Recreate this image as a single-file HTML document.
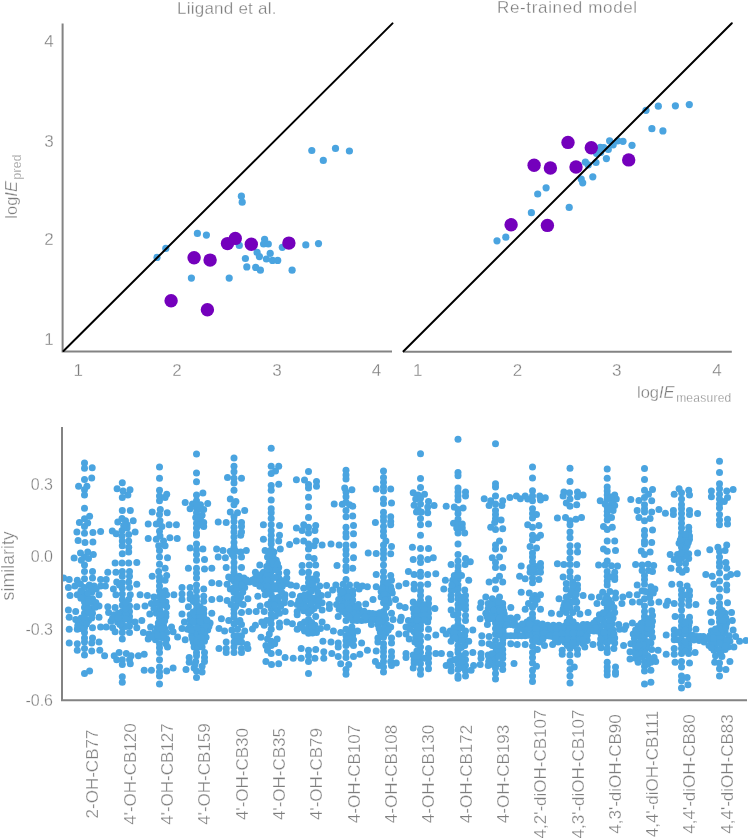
<!DOCTYPE html><html><head><meta charset="utf-8"><style>
html,body{margin:0;padding:0;background:#fff;}
body{width:749px;height:840px;position:relative;overflow:hidden;}
svg{position:absolute;left:0;top:0;display:block;}
</style></head><body>
<svg width="749" height="840" viewBox="0 0 749 840">
<defs><clipPath id="cp"><rect x="62" y="420" width="686" height="280"/></clipPath></defs>
<g fill="#4aa4e0" clip-path="url(#cp)"><circle cx="84.5" cy="462.9" r="3.5"/><circle cx="84.5" cy="468.2" r="3.5"/><circle cx="92.2" cy="467.8" r="3.5"/><circle cx="84.5" cy="479.5" r="3.5"/><circle cx="91.7" cy="477.9" r="3.5"/><circle cx="78.6" cy="486.2" r="3.5"/><circle cx="86.9" cy="486.2" r="3.5"/><circle cx="84.5" cy="489.8" r="3.5"/><circle cx="84.5" cy="495.1" r="3.5"/><circle cx="84.5" cy="508.3" r="3.5"/><circle cx="89.6" cy="516.3" r="3.5"/><circle cx="84.5" cy="518.7" r="3.5"/><circle cx="79.4" cy="522.4" r="3.5"/><circle cx="87.7" cy="522.9" r="3.5"/><circle cx="84.5" cy="526.4" r="3.5"/><circle cx="76.9" cy="532.1" r="3.5"/><circle cx="84.5" cy="533.3" r="3.5"/><circle cx="92.9" cy="532.5" r="3.5"/><circle cx="100.6" cy="531.6" r="3.5"/><circle cx="78.1" cy="540.6" r="3.5"/><circle cx="85.0" cy="542.5" r="3.5"/><circle cx="92.9" cy="542.0" r="3.5"/><circle cx="74.1" cy="558.1" r="3.5"/><circle cx="80.5" cy="552.9" r="3.5"/><circle cx="87.7" cy="552.1" r="3.5"/><circle cx="84.5" cy="557.0" r="3.5"/><circle cx="93.3" cy="554.6" r="3.5"/><circle cx="88.5" cy="558.6" r="3.5"/><circle cx="81.3" cy="560.2" r="3.5"/><circle cx="84.5" cy="565.0" r="3.5"/><circle cx="84.5" cy="571.4" r="3.5"/><circle cx="92.5" cy="571.4" r="3.5"/><circle cx="63.6" cy="577.9" r="3.5"/><circle cx="69.2" cy="579.5" r="3.5"/><circle cx="77.3" cy="580.3" r="3.5"/><circle cx="84.5" cy="578.7" r="3.5"/><circle cx="92.5" cy="577.9" r="3.5"/><circle cx="100.6" cy="579.5" r="3.5"/><circle cx="68.4" cy="587.5" r="3.5"/><circle cx="74.9" cy="585.9" r="3.5"/><circle cx="80.5" cy="584.3" r="3.5"/><circle cx="84.5" cy="587.5" r="3.5"/><circle cx="89.3" cy="585.1" r="3.5"/><circle cx="94.1" cy="585.9" r="3.5"/><circle cx="100.6" cy="585.9" r="3.5"/><circle cx="70.0" cy="595.5" r="3.5"/><circle cx="77.3" cy="594.7" r="3.5"/><circle cx="84.5" cy="593.9" r="3.5"/><circle cx="91.7" cy="592.3" r="3.5"/><circle cx="99.0" cy="594.7" r="3.5"/><circle cx="84.5" cy="598.8" r="3.5"/><circle cx="92.5" cy="598.8" r="3.5"/><circle cx="84.5" cy="602.0" r="3.5"/><circle cx="92.5" cy="602.0" r="3.5"/><circle cx="68.4" cy="610.0" r="3.5"/><circle cx="75.7" cy="611.6" r="3.5"/><circle cx="84.5" cy="607.6" r="3.5"/><circle cx="91.7" cy="608.4" r="3.5"/><circle cx="99.0" cy="606.0" r="3.5"/><circle cx="84.5" cy="613.2" r="3.5"/><circle cx="92.5" cy="613.2" r="3.5"/><circle cx="69.2" cy="617.2" r="3.5"/><circle cx="75.7" cy="619.6" r="3.5"/><circle cx="81.3" cy="618.0" r="3.5"/><circle cx="84.5" cy="621.2" r="3.5"/><circle cx="88.5" cy="620.4" r="3.5"/><circle cx="91.7" cy="618.0" r="3.5"/><circle cx="99.0" cy="617.2" r="3.5"/><circle cx="78.1" cy="622.1" r="3.5"/><circle cx="69.2" cy="629.3" r="3.5"/><circle cx="77.3" cy="629.3" r="3.5"/><circle cx="84.5" cy="627.7" r="3.5"/><circle cx="92.5" cy="627.7" r="3.5"/><circle cx="100.6" cy="626.9" r="3.5"/><circle cx="84.5" cy="632.5" r="3.5"/><circle cx="84.5" cy="638.1" r="3.5"/><circle cx="92.5" cy="638.1" r="3.5"/><circle cx="69.2" cy="642.9" r="3.5"/><circle cx="77.3" cy="643.8" r="3.5"/><circle cx="84.5" cy="642.1" r="3.5"/><circle cx="91.7" cy="642.9" r="3.5"/><circle cx="99.0" cy="642.1" r="3.5"/><circle cx="77.3" cy="650.2" r="3.5"/><circle cx="84.5" cy="648.6" r="3.5"/><circle cx="91.7" cy="651.0" r="3.5"/><circle cx="99.8" cy="650.2" r="3.5"/><circle cx="84.5" cy="655.0" r="3.5"/><circle cx="104.6" cy="655.8" r="3.5"/><circle cx="84.5" cy="673.5" r="3.5"/><circle cx="89.6" cy="671.1" r="3.5"/><circle cx="122.3" cy="482.7" r="3.5"/><circle cx="117.1" cy="488.7" r="3.5"/><circle cx="123.1" cy="491.1" r="3.5"/><circle cx="130.0" cy="489.8" r="3.5"/><circle cx="122.3" cy="497.5" r="3.5"/><circle cx="127.9" cy="495.1" r="3.5"/><circle cx="122.3" cy="510.4" r="3.5"/><circle cx="130.3" cy="510.4" r="3.5"/><circle cx="122.0" cy="518.4" r="3.5"/><circle cx="117.8" cy="521.9" r="3.5"/><circle cx="125.5" cy="520.8" r="3.5"/><circle cx="133.2" cy="520.8" r="3.5"/><circle cx="127.1" cy="524.8" r="3.5"/><circle cx="112.3" cy="530.9" r="3.5"/><circle cx="116.2" cy="533.7" r="3.5"/><circle cx="122.0" cy="530.4" r="3.5"/><circle cx="127.1" cy="528.0" r="3.5"/><circle cx="135.1" cy="532.1" r="3.5"/><circle cx="122.0" cy="536.1" r="3.5"/><circle cx="128.7" cy="534.5" r="3.5"/><circle cx="122.3" cy="540.9" r="3.5"/><circle cx="128.7" cy="540.9" r="3.5"/><circle cx="122.3" cy="545.7" r="3.5"/><circle cx="128.7" cy="547.3" r="3.5"/><circle cx="122.3" cy="553.8" r="3.5"/><circle cx="128.7" cy="552.1" r="3.5"/><circle cx="115.1" cy="563.1" r="3.5"/><circle cx="122.0" cy="563.1" r="3.5"/><circle cx="128.7" cy="563.1" r="3.5"/><circle cx="136.8" cy="562.6" r="3.5"/><circle cx="107.8" cy="572.2" r="3.5"/><circle cx="115.9" cy="572.2" r="3.5"/><circle cx="122.3" cy="571.4" r="3.5"/><circle cx="129.5" cy="571.4" r="3.5"/><circle cx="122.3" cy="576.2" r="3.5"/><circle cx="129.5" cy="576.2" r="3.5"/><circle cx="106.2" cy="579.5" r="3.5"/><circle cx="105.4" cy="585.9" r="3.5"/><circle cx="116.7" cy="581.9" r="3.5"/><circle cx="122.3" cy="582.7" r="3.5"/><circle cx="128.7" cy="581.9" r="3.5"/><circle cx="136.8" cy="584.3" r="3.5"/><circle cx="113.4" cy="589.1" r="3.5"/><circle cx="122.3" cy="588.3" r="3.5"/><circle cx="129.5" cy="587.5" r="3.5"/><circle cx="115.9" cy="594.7" r="3.5"/><circle cx="122.3" cy="593.9" r="3.5"/><circle cx="130.3" cy="594.7" r="3.5"/><circle cx="140.1" cy="594.7" r="3.5"/><circle cx="122.3" cy="599.6" r="3.5"/><circle cx="128.7" cy="599.6" r="3.5"/><circle cx="107.8" cy="606.8" r="3.5"/><circle cx="115.1" cy="607.6" r="3.5"/><circle cx="122.3" cy="605.2" r="3.5"/><circle cx="129.5" cy="606.0" r="3.5"/><circle cx="136.8" cy="606.8" r="3.5"/><circle cx="108.6" cy="612.4" r="3.5"/><circle cx="114.2" cy="614.8" r="3.5"/><circle cx="122.3" cy="611.6" r="3.5"/><circle cx="129.5" cy="611.6" r="3.5"/><circle cx="122.3" cy="616.4" r="3.5"/><circle cx="129.5" cy="616.4" r="3.5"/><circle cx="111.0" cy="621.2" r="3.5"/><circle cx="117.5" cy="622.1" r="3.5"/><circle cx="122.3" cy="621.2" r="3.5"/><circle cx="129.5" cy="620.4" r="3.5"/><circle cx="135.1" cy="622.1" r="3.5"/><circle cx="106.2" cy="626.9" r="3.5"/><circle cx="112.6" cy="627.7" r="3.5"/><circle cx="122.3" cy="626.9" r="3.5"/><circle cx="129.5" cy="626.1" r="3.5"/><circle cx="136.8" cy="627.7" r="3.5"/><circle cx="115.1" cy="631.7" r="3.5"/><circle cx="122.3" cy="632.5" r="3.5"/><circle cx="129.5" cy="632.5" r="3.5"/><circle cx="122.3" cy="638.9" r="3.5"/><circle cx="114.2" cy="655.8" r="3.5"/><circle cx="119.1" cy="652.6" r="3.5"/><circle cx="126.3" cy="653.4" r="3.5"/><circle cx="131.1" cy="655.8" r="3.5"/><circle cx="138.4" cy="655.8" r="3.5"/><circle cx="116.7" cy="659.8" r="3.5"/><circle cx="122.3" cy="659.8" r="3.5"/><circle cx="129.5" cy="659.8" r="3.5"/><circle cx="122.3" cy="664.6" r="3.5"/><circle cx="130.3" cy="663.8" r="3.5"/><circle cx="122.3" cy="676.7" r="3.5"/><circle cx="122.3" cy="682.3" r="3.5"/><circle cx="159.5" cy="467.0" r="3.5"/><circle cx="159.5" cy="478.2" r="3.5"/><circle cx="159.5" cy="490.3" r="3.5"/><circle cx="159.5" cy="495.9" r="3.5"/><circle cx="166.7" cy="494.3" r="3.5"/><circle cx="159.5" cy="500.7" r="3.5"/><circle cx="165.1" cy="497.5" r="3.5"/><circle cx="152.2" cy="512.0" r="3.5"/><circle cx="160.3" cy="509.6" r="3.5"/><circle cx="159.5" cy="514.4" r="3.5"/><circle cx="167.2" cy="512.8" r="3.5"/><circle cx="148.2" cy="524.0" r="3.5"/><circle cx="156.3" cy="524.0" r="3.5"/><circle cx="160.0" cy="520.8" r="3.5"/><circle cx="161.9" cy="526.4" r="3.5"/><circle cx="169.1" cy="524.8" r="3.5"/><circle cx="176.4" cy="524.8" r="3.5"/><circle cx="159.5" cy="531.2" r="3.5"/><circle cx="148.2" cy="538.5" r="3.5"/><circle cx="156.3" cy="539.3" r="3.5"/><circle cx="160.0" cy="536.1" r="3.5"/><circle cx="163.5" cy="540.9" r="3.5"/><circle cx="169.9" cy="537.7" r="3.5"/><circle cx="177.2" cy="538.5" r="3.5"/><circle cx="158.7" cy="545.7" r="3.5"/><circle cx="165.1" cy="545.7" r="3.5"/><circle cx="159.5" cy="550.5" r="3.5"/><circle cx="159.5" cy="557.0" r="3.5"/><circle cx="167.5" cy="557.8" r="3.5"/><circle cx="159.5" cy="564.2" r="3.5"/><circle cx="165.1" cy="568.2" r="3.5"/><circle cx="158.7" cy="571.4" r="3.5"/><circle cx="152.2" cy="576.2" r="3.5"/><circle cx="159.5" cy="577.1" r="3.5"/><circle cx="166.7" cy="575.4" r="3.5"/><circle cx="159.5" cy="581.1" r="3.5"/><circle cx="165.1" cy="580.3" r="3.5"/><circle cx="159.5" cy="585.9" r="3.5"/><circle cx="159.5" cy="590.7" r="3.5"/><circle cx="165.1" cy="590.7" r="3.5"/><circle cx="147.4" cy="595.5" r="3.5"/><circle cx="153.9" cy="597.1" r="3.5"/><circle cx="159.5" cy="596.3" r="3.5"/><circle cx="166.7" cy="594.7" r="3.5"/><circle cx="173.9" cy="594.7" r="3.5"/><circle cx="145.0" cy="606.0" r="3.5"/><circle cx="151.4" cy="603.6" r="3.5"/><circle cx="159.5" cy="602.0" r="3.5"/><circle cx="165.9" cy="602.0" r="3.5"/><circle cx="159.5" cy="607.6" r="3.5"/><circle cx="166.7" cy="606.8" r="3.5"/><circle cx="149.8" cy="614.0" r="3.5"/><circle cx="156.3" cy="613.2" r="3.5"/><circle cx="160.3" cy="611.6" r="3.5"/><circle cx="165.9" cy="613.2" r="3.5"/><circle cx="159.5" cy="618.0" r="3.5"/><circle cx="165.9" cy="616.4" r="3.5"/><circle cx="141.8" cy="620.4" r="3.5"/><circle cx="150.6" cy="626.9" r="3.5"/><circle cx="157.1" cy="627.7" r="3.5"/><circle cx="163.5" cy="625.3" r="3.5"/><circle cx="171.5" cy="626.9" r="3.5"/><circle cx="143.4" cy="632.5" r="3.5"/><circle cx="149.0" cy="634.1" r="3.5"/><circle cx="154.7" cy="632.5" r="3.5"/><circle cx="160.3" cy="631.7" r="3.5"/><circle cx="166.7" cy="632.5" r="3.5"/><circle cx="173.1" cy="631.7" r="3.5"/><circle cx="148.2" cy="638.9" r="3.5"/><circle cx="155.5" cy="639.7" r="3.5"/><circle cx="160.3" cy="637.3" r="3.5"/><circle cx="166.7" cy="638.9" r="3.5"/><circle cx="177.6" cy="636.9" r="3.5"/><circle cx="159.5" cy="643.8" r="3.5"/><circle cx="165.9" cy="643.8" r="3.5"/><circle cx="159.5" cy="647.8" r="3.5"/><circle cx="167.5" cy="647.0" r="3.5"/><circle cx="159.5" cy="652.6" r="3.5"/><circle cx="144.2" cy="654.2" r="3.5"/><circle cx="159.5" cy="659.8" r="3.5"/><circle cx="144.2" cy="670.3" r="3.5"/><circle cx="151.4" cy="670.3" r="3.5"/><circle cx="159.5" cy="667.1" r="3.5"/><circle cx="159.5" cy="671.9" r="3.5"/><circle cx="159.5" cy="675.9" r="3.5"/><circle cx="166.7" cy="671.1" r="3.5"/><circle cx="173.1" cy="667.9" r="3.5"/><circle cx="159.5" cy="683.9" r="3.5"/><circle cx="196.5" cy="454.1" r="3.5"/><circle cx="196.5" cy="473.1" r="3.5"/><circle cx="196.5" cy="481.8" r="3.5"/><circle cx="196.5" cy="495.1" r="3.5"/><circle cx="202.9" cy="493.0" r="3.5"/><circle cx="185.2" cy="502.6" r="3.5"/><circle cx="192.5" cy="503.9" r="3.5"/><circle cx="196.5" cy="500.7" r="3.5"/><circle cx="200.5" cy="504.7" r="3.5"/><circle cx="207.7" cy="503.6" r="3.5"/><circle cx="190.1" cy="508.8" r="3.5"/><circle cx="196.5" cy="507.9" r="3.5"/><circle cx="203.7" cy="509.6" r="3.5"/><circle cx="196.5" cy="512.8" r="3.5"/><circle cx="202.1" cy="515.2" r="3.5"/><circle cx="195.7" cy="517.6" r="3.5"/><circle cx="200.5" cy="517.6" r="3.5"/><circle cx="196.5" cy="523.2" r="3.5"/><circle cx="203.7" cy="522.4" r="3.5"/><circle cx="203.7" cy="526.4" r="3.5"/><circle cx="196.5" cy="528.0" r="3.5"/><circle cx="196.5" cy="532.9" r="3.5"/><circle cx="196.5" cy="535.3" r="3.5"/><circle cx="190.1" cy="548.1" r="3.5"/><circle cx="196.5" cy="544.1" r="3.5"/><circle cx="196.5" cy="549.7" r="3.5"/><circle cx="202.9" cy="548.9" r="3.5"/><circle cx="196.5" cy="554.6" r="3.5"/><circle cx="196.5" cy="560.2" r="3.5"/><circle cx="204.5" cy="559.4" r="3.5"/><circle cx="188.4" cy="568.2" r="3.5"/><circle cx="196.5" cy="568.2" r="3.5"/><circle cx="204.5" cy="569.0" r="3.5"/><circle cx="211.8" cy="568.2" r="3.5"/><circle cx="196.5" cy="573.0" r="3.5"/><circle cx="196.5" cy="577.9" r="3.5"/><circle cx="211.8" cy="582.7" r="3.5"/><circle cx="182.0" cy="587.5" r="3.5"/><circle cx="190.1" cy="587.5" r="3.5"/><circle cx="196.5" cy="585.1" r="3.5"/><circle cx="203.7" cy="589.1" r="3.5"/><circle cx="182.0" cy="593.9" r="3.5"/><circle cx="190.1" cy="593.9" r="3.5"/><circle cx="196.5" cy="590.7" r="3.5"/><circle cx="190.1" cy="598.8" r="3.5"/><circle cx="196.5" cy="597.1" r="3.5"/><circle cx="203.7" cy="596.3" r="3.5"/><circle cx="182.0" cy="599.6" r="3.5"/><circle cx="211.8" cy="599.6" r="3.5"/><circle cx="203.7" cy="601.2" r="3.5"/><circle cx="188.4" cy="606.8" r="3.5"/><circle cx="196.5" cy="604.4" r="3.5"/><circle cx="196.5" cy="609.2" r="3.5"/><circle cx="203.7" cy="609.2" r="3.5"/><circle cx="182.0" cy="614.0" r="3.5"/><circle cx="190.1" cy="614.8" r="3.5"/><circle cx="196.5" cy="613.2" r="3.5"/><circle cx="203.7" cy="613.2" r="3.5"/><circle cx="211.8" cy="613.2" r="3.5"/><circle cx="196.5" cy="618.0" r="3.5"/><circle cx="203.7" cy="617.2" r="3.5"/><circle cx="184.4" cy="622.1" r="3.5"/><circle cx="190.1" cy="625.3" r="3.5"/><circle cx="196.5" cy="622.1" r="3.5"/><circle cx="203.7" cy="621.2" r="3.5"/><circle cx="210.1" cy="622.9" r="3.5"/><circle cx="182.0" cy="628.5" r="3.5"/><circle cx="187.6" cy="629.3" r="3.5"/><circle cx="194.1" cy="628.5" r="3.5"/><circle cx="200.5" cy="626.9" r="3.5"/><circle cx="207.7" cy="630.1" r="3.5"/><circle cx="185.2" cy="639.7" r="3.5"/><circle cx="191.7" cy="635.7" r="3.5"/><circle cx="196.5" cy="632.5" r="3.5"/><circle cx="202.1" cy="634.1" r="3.5"/><circle cx="206.1" cy="637.3" r="3.5"/><circle cx="193.3" cy="642.1" r="3.5"/><circle cx="199.7" cy="640.5" r="3.5"/><circle cx="204.5" cy="641.3" r="3.5"/><circle cx="194.1" cy="647.0" r="3.5"/><circle cx="202.1" cy="647.0" r="3.5"/><circle cx="196.5" cy="652.6" r="3.5"/><circle cx="204.5" cy="652.6" r="3.5"/><circle cx="189.2" cy="657.4" r="3.5"/><circle cx="196.5" cy="655.8" r="3.5"/><circle cx="204.5" cy="657.4" r="3.5"/><circle cx="189.2" cy="662.2" r="3.5"/><circle cx="195.7" cy="661.4" r="3.5"/><circle cx="204.5" cy="661.4" r="3.5"/><circle cx="186.0" cy="669.5" r="3.5"/><circle cx="194.1" cy="667.9" r="3.5"/><circle cx="202.1" cy="666.2" r="3.5"/><circle cx="196.5" cy="671.1" r="3.5"/><circle cx="202.1" cy="671.9" r="3.5"/><circle cx="196.5" cy="677.5" r="3.5"/><circle cx="234.0" cy="458.1" r="3.5"/><circle cx="234.0" cy="466.2" r="3.5"/><circle cx="234.0" cy="471.8" r="3.5"/><circle cx="227.5" cy="477.4" r="3.5"/><circle cx="234.0" cy="478.2" r="3.5"/><circle cx="241.5" cy="478.2" r="3.5"/><circle cx="234.0" cy="483.0" r="3.5"/><circle cx="234.0" cy="490.3" r="3.5"/><circle cx="230.3" cy="499.1" r="3.5"/><circle cx="235.9" cy="501.5" r="3.5"/><circle cx="234.0" cy="504.7" r="3.5"/><circle cx="230.3" cy="512.0" r="3.5"/><circle cx="237.5" cy="512.8" r="3.5"/><circle cx="244.7" cy="510.4" r="3.5"/><circle cx="234.0" cy="516.8" r="3.5"/><circle cx="218.2" cy="521.9" r="3.5"/><circle cx="226.2" cy="522.4" r="3.5"/><circle cx="234.0" cy="521.6" r="3.5"/><circle cx="241.5" cy="522.4" r="3.5"/><circle cx="234.0" cy="527.2" r="3.5"/><circle cx="241.5" cy="526.4" r="3.5"/><circle cx="234.0" cy="532.1" r="3.5"/><circle cx="241.5" cy="532.1" r="3.5"/><circle cx="234.0" cy="536.9" r="3.5"/><circle cx="240.7" cy="535.3" r="3.5"/><circle cx="234.0" cy="542.5" r="3.5"/><circle cx="234.0" cy="547.3" r="3.5"/><circle cx="216.6" cy="548.9" r="3.5"/><circle cx="223.0" cy="550.5" r="3.5"/><circle cx="230.3" cy="551.3" r="3.5"/><circle cx="235.9" cy="551.3" r="3.5"/><circle cx="240.7" cy="552.1" r="3.5"/><circle cx="246.3" cy="550.5" r="3.5"/><circle cx="218.2" cy="557.0" r="3.5"/><circle cx="225.4" cy="557.8" r="3.5"/><circle cx="234.0" cy="557.0" r="3.5"/><circle cx="241.5" cy="557.0" r="3.5"/><circle cx="234.0" cy="562.6" r="3.5"/><circle cx="226.2" cy="567.4" r="3.5"/><circle cx="234.0" cy="567.4" r="3.5"/><circle cx="241.5" cy="567.4" r="3.5"/><circle cx="234.0" cy="572.2" r="3.5"/><circle cx="228.7" cy="577.1" r="3.5"/><circle cx="234.0" cy="575.4" r="3.5"/><circle cx="239.1" cy="576.2" r="3.5"/><circle cx="243.9" cy="577.9" r="3.5"/><circle cx="219.0" cy="583.5" r="3.5"/><circle cx="227.1" cy="584.3" r="3.5"/><circle cx="234.0" cy="581.1" r="3.5"/><circle cx="239.1" cy="581.1" r="3.5"/><circle cx="244.7" cy="582.7" r="3.5"/><circle cx="249.6" cy="581.9" r="3.5"/><circle cx="230.3" cy="589.1" r="3.5"/><circle cx="234.0" cy="587.5" r="3.5"/><circle cx="239.1" cy="587.5" r="3.5"/><circle cx="244.7" cy="587.5" r="3.5"/><circle cx="234.0" cy="592.3" r="3.5"/><circle cx="219.8" cy="598.8" r="3.5"/><circle cx="227.1" cy="600.4" r="3.5"/><circle cx="234.0" cy="598.8" r="3.5"/><circle cx="240.7" cy="597.1" r="3.5"/><circle cx="247.9" cy="598.8" r="3.5"/><circle cx="231.1" cy="604.4" r="3.5"/><circle cx="237.5" cy="603.6" r="3.5"/><circle cx="243.1" cy="604.4" r="3.5"/><circle cx="234.0" cy="609.2" r="3.5"/><circle cx="234.0" cy="613.2" r="3.5"/><circle cx="241.5" cy="612.4" r="3.5"/><circle cx="248.8" cy="611.6" r="3.5"/><circle cx="221.4" cy="618.8" r="3.5"/><circle cx="228.7" cy="620.4" r="3.5"/><circle cx="234.0" cy="617.2" r="3.5"/><circle cx="239.9" cy="620.4" r="3.5"/><circle cx="234.0" cy="623.7" r="3.5"/><circle cx="241.5" cy="624.5" r="3.5"/><circle cx="219.0" cy="628.5" r="3.5"/><circle cx="224.6" cy="630.9" r="3.5"/><circle cx="231.9" cy="630.1" r="3.5"/><circle cx="237.5" cy="629.3" r="3.5"/><circle cx="244.7" cy="630.9" r="3.5"/><circle cx="252.5" cy="628.9" r="3.5"/><circle cx="234.0" cy="635.7" r="3.5"/><circle cx="241.5" cy="635.7" r="3.5"/><circle cx="226.2" cy="642.1" r="3.5"/><circle cx="234.0" cy="642.1" r="3.5"/><circle cx="241.5" cy="642.1" r="3.5"/><circle cx="247.1" cy="644.6" r="3.5"/><circle cx="219.0" cy="648.6" r="3.5"/><circle cx="226.2" cy="648.6" r="3.5"/><circle cx="234.0" cy="647.0" r="3.5"/><circle cx="241.5" cy="648.6" r="3.5"/><circle cx="247.9" cy="648.6" r="3.5"/><circle cx="226.2" cy="652.6" r="3.5"/><circle cx="234.0" cy="652.6" r="3.5"/><circle cx="241.5" cy="652.6" r="3.5"/><circle cx="271.2" cy="448.2" r="3.5"/><circle cx="271.2" cy="466.2" r="3.5"/><circle cx="278.7" cy="466.2" r="3.5"/><circle cx="275.5" cy="471.0" r="3.5"/><circle cx="271.2" cy="473.4" r="3.5"/><circle cx="271.2" cy="485.4" r="3.5"/><circle cx="278.7" cy="484.3" r="3.5"/><circle cx="271.2" cy="490.3" r="3.5"/><circle cx="271.2" cy="499.9" r="3.5"/><circle cx="271.2" cy="508.8" r="3.5"/><circle cx="271.2" cy="512.8" r="3.5"/><circle cx="271.2" cy="518.4" r="3.5"/><circle cx="263.4" cy="524.8" r="3.5"/><circle cx="271.2" cy="524.8" r="3.5"/><circle cx="279.5" cy="525.6" r="3.5"/><circle cx="271.2" cy="530.4" r="3.5"/><circle cx="271.2" cy="535.3" r="3.5"/><circle cx="279.5" cy="535.3" r="3.5"/><circle cx="263.4" cy="539.3" r="3.5"/><circle cx="271.2" cy="540.1" r="3.5"/><circle cx="278.7" cy="540.9" r="3.5"/><circle cx="271.2" cy="544.1" r="3.5"/><circle cx="289.6" cy="544.4" r="3.5"/><circle cx="265.1" cy="550.5" r="3.5"/><circle cx="271.2" cy="549.7" r="3.5"/><circle cx="273.9" cy="552.1" r="3.5"/><circle cx="280.3" cy="548.9" r="3.5"/><circle cx="267.5" cy="557.0" r="3.5"/><circle cx="273.1" cy="557.0" r="3.5"/><circle cx="276.3" cy="560.2" r="3.5"/><circle cx="259.8" cy="565.0" r="3.5"/><circle cx="269.1" cy="562.6" r="3.5"/><circle cx="266.7" cy="566.6" r="3.5"/><circle cx="272.3" cy="566.6" r="3.5"/><circle cx="278.7" cy="567.4" r="3.5"/><circle cx="255.4" cy="572.2" r="3.5"/><circle cx="263.4" cy="572.2" r="3.5"/><circle cx="271.2" cy="571.4" r="3.5"/><circle cx="278.7" cy="573.0" r="3.5"/><circle cx="286.8" cy="572.2" r="3.5"/><circle cx="255.4" cy="577.9" r="3.5"/><circle cx="263.4" cy="577.9" r="3.5"/><circle cx="271.2" cy="577.1" r="3.5"/><circle cx="278.7" cy="577.9" r="3.5"/><circle cx="286.8" cy="577.9" r="3.5"/><circle cx="255.4" cy="583.5" r="3.5"/><circle cx="263.4" cy="583.5" r="3.5"/><circle cx="271.2" cy="582.7" r="3.5"/><circle cx="278.7" cy="583.5" r="3.5"/><circle cx="286.8" cy="583.5" r="3.5"/><circle cx="264.2" cy="589.1" r="3.5"/><circle cx="271.2" cy="589.1" r="3.5"/><circle cx="277.9" cy="589.1" r="3.5"/><circle cx="257.8" cy="596.3" r="3.5"/><circle cx="265.1" cy="594.7" r="3.5"/><circle cx="271.2" cy="594.7" r="3.5"/><circle cx="278.7" cy="597.1" r="3.5"/><circle cx="285.1" cy="594.7" r="3.5"/><circle cx="260.2" cy="606.0" r="3.5"/><circle cx="267.5" cy="604.4" r="3.5"/><circle cx="271.2" cy="601.2" r="3.5"/><circle cx="277.9" cy="602.0" r="3.5"/><circle cx="284.3" cy="602.8" r="3.5"/><circle cx="256.2" cy="611.6" r="3.5"/><circle cx="264.2" cy="611.6" r="3.5"/><circle cx="271.2" cy="608.4" r="3.5"/><circle cx="277.1" cy="610.0" r="3.5"/><circle cx="285.1" cy="611.6" r="3.5"/><circle cx="271.2" cy="614.0" r="3.5"/><circle cx="279.5" cy="613.2" r="3.5"/><circle cx="271.2" cy="618.8" r="3.5"/><circle cx="261.8" cy="622.1" r="3.5"/><circle cx="255.4" cy="625.3" r="3.5"/><circle cx="264.2" cy="625.3" r="3.5"/><circle cx="271.2" cy="623.7" r="3.5"/><circle cx="279.5" cy="622.9" r="3.5"/><circle cx="286.8" cy="622.1" r="3.5"/><circle cx="279.5" cy="626.9" r="3.5"/><circle cx="271.2" cy="629.3" r="3.5"/><circle cx="261.0" cy="637.3" r="3.5"/><circle cx="267.5" cy="638.9" r="3.5"/><circle cx="271.2" cy="641.3" r="3.5"/><circle cx="277.1" cy="638.9" r="3.5"/><circle cx="265.9" cy="645.4" r="3.5"/><circle cx="271.2" cy="645.4" r="3.5"/><circle cx="274.7" cy="643.8" r="3.5"/><circle cx="267.5" cy="650.2" r="3.5"/><circle cx="271.2" cy="653.4" r="3.5"/><circle cx="278.7" cy="652.6" r="3.5"/><circle cx="285.1" cy="657.4" r="3.5"/><circle cx="265.9" cy="661.4" r="3.5"/><circle cx="271.5" cy="664.6" r="3.5"/><circle cx="278.7" cy="663.8" r="3.5"/><circle cx="308.5" cy="471.5" r="3.5"/><circle cx="296.4" cy="479.8" r="3.5"/><circle cx="304.5" cy="480.1" r="3.5"/><circle cx="308.5" cy="484.6" r="3.5"/><circle cx="316.5" cy="481.4" r="3.5"/><circle cx="316.5" cy="486.2" r="3.5"/><circle cx="308.5" cy="487.9" r="3.5"/><circle cx="308.5" cy="497.2" r="3.5"/><circle cx="308.5" cy="506.8" r="3.5"/><circle cx="308.5" cy="517.6" r="3.5"/><circle cx="296.4" cy="528.0" r="3.5"/><circle cx="303.7" cy="524.8" r="3.5"/><circle cx="308.5" cy="527.2" r="3.5"/><circle cx="315.7" cy="525.6" r="3.5"/><circle cx="302.1" cy="530.4" r="3.5"/><circle cx="308.5" cy="532.9" r="3.5"/><circle cx="314.9" cy="530.4" r="3.5"/><circle cx="296.4" cy="540.9" r="3.5"/><circle cx="303.7" cy="540.9" r="3.5"/><circle cx="308.5" cy="544.1" r="3.5"/><circle cx="315.7" cy="540.9" r="3.5"/><circle cx="322.1" cy="544.9" r="3.5"/><circle cx="308.5" cy="548.9" r="3.5"/><circle cx="314.1" cy="545.7" r="3.5"/><circle cx="308.5" cy="557.0" r="3.5"/><circle cx="314.1" cy="558.6" r="3.5"/><circle cx="302.1" cy="565.4" r="3.5"/><circle cx="309.3" cy="565.0" r="3.5"/><circle cx="315.7" cy="565.0" r="3.5"/><circle cx="302.1" cy="572.2" r="3.5"/><circle cx="308.5" cy="572.2" r="3.5"/><circle cx="316.5" cy="574.6" r="3.5"/><circle cx="308.5" cy="577.9" r="3.5"/><circle cx="316.5" cy="580.3" r="3.5"/><circle cx="308.5" cy="582.7" r="3.5"/><circle cx="290.8" cy="585.1" r="3.5"/><circle cx="296.4" cy="585.9" r="3.5"/><circle cx="303.7" cy="588.3" r="3.5"/><circle cx="308.5" cy="587.5" r="3.5"/><circle cx="314.1" cy="588.3" r="3.5"/><circle cx="319.7" cy="585.9" r="3.5"/><circle cx="326.6" cy="585.5" r="3.5"/><circle cx="292.4" cy="594.7" r="3.5"/><circle cx="300.4" cy="596.3" r="3.5"/><circle cx="308.5" cy="593.9" r="3.5"/><circle cx="315.7" cy="597.9" r="3.5"/><circle cx="321.3" cy="595.5" r="3.5"/><circle cx="290.8" cy="603.6" r="3.5"/><circle cx="297.2" cy="604.4" r="3.5"/><circle cx="303.7" cy="602.8" r="3.5"/><circle cx="308.5" cy="600.4" r="3.5"/><circle cx="314.1" cy="601.2" r="3.5"/><circle cx="322.1" cy="602.8" r="3.5"/><circle cx="297.2" cy="611.6" r="3.5"/><circle cx="303.7" cy="610.8" r="3.5"/><circle cx="308.5" cy="606.8" r="3.5"/><circle cx="314.1" cy="608.4" r="3.5"/><circle cx="322.1" cy="610.0" r="3.5"/><circle cx="297.2" cy="614.8" r="3.5"/><circle cx="308.5" cy="613.2" r="3.5"/><circle cx="315.7" cy="616.4" r="3.5"/><circle cx="308.5" cy="619.6" r="3.5"/><circle cx="292.4" cy="623.7" r="3.5"/><circle cx="300.4" cy="624.5" r="3.5"/><circle cx="308.5" cy="623.7" r="3.5"/><circle cx="314.9" cy="625.3" r="3.5"/><circle cx="322.1" cy="622.1" r="3.5"/><circle cx="297.2" cy="629.3" r="3.5"/><circle cx="304.5" cy="630.9" r="3.5"/><circle cx="308.5" cy="627.7" r="3.5"/><circle cx="314.1" cy="629.3" r="3.5"/><circle cx="320.5" cy="628.5" r="3.5"/><circle cx="327.0" cy="627.3" r="3.5"/><circle cx="308.5" cy="633.3" r="3.5"/><circle cx="316.5" cy="632.5" r="3.5"/><circle cx="322.9" cy="641.3" r="3.5"/><circle cx="301.2" cy="648.6" r="3.5"/><circle cx="308.5" cy="650.2" r="3.5"/><circle cx="315.7" cy="649.4" r="3.5"/><circle cx="323.8" cy="651.8" r="3.5"/><circle cx="293.2" cy="658.2" r="3.5"/><circle cx="301.2" cy="658.2" r="3.5"/><circle cx="308.5" cy="655.8" r="3.5"/><circle cx="314.9" cy="658.2" r="3.5"/><circle cx="323.8" cy="658.2" r="3.5"/><circle cx="308.5" cy="661.4" r="3.5"/><circle cx="308.5" cy="673.5" r="3.5"/><circle cx="346.0" cy="470.2" r="3.5"/><circle cx="346.0" cy="475.0" r="3.5"/><circle cx="346.0" cy="479.0" r="3.5"/><circle cx="344.7" cy="487.9" r="3.5"/><circle cx="351.9" cy="489.8" r="3.5"/><circle cx="346.0" cy="491.9" r="3.5"/><circle cx="346.0" cy="496.7" r="3.5"/><circle cx="334.2" cy="503.9" r="3.5"/><circle cx="342.3" cy="504.2" r="3.5"/><circle cx="346.0" cy="502.3" r="3.5"/><circle cx="349.5" cy="504.7" r="3.5"/><circle cx="352.7" cy="506.3" r="3.5"/><circle cx="346.0" cy="510.4" r="3.5"/><circle cx="346.0" cy="516.8" r="3.5"/><circle cx="352.7" cy="516.0" r="3.5"/><circle cx="346.0" cy="527.2" r="3.5"/><circle cx="353.5" cy="525.6" r="3.5"/><circle cx="346.0" cy="532.9" r="3.5"/><circle cx="353.5" cy="533.7" r="3.5"/><circle cx="346.0" cy="536.9" r="3.5"/><circle cx="331.0" cy="544.1" r="3.5"/><circle cx="339.1" cy="544.9" r="3.5"/><circle cx="346.0" cy="544.9" r="3.5"/><circle cx="353.5" cy="544.9" r="3.5"/><circle cx="346.0" cy="549.7" r="3.5"/><circle cx="346.0" cy="554.6" r="3.5"/><circle cx="353.5" cy="557.8" r="3.5"/><circle cx="346.0" cy="560.2" r="3.5"/><circle cx="337.0" cy="565.6" r="3.5"/><circle cx="346.0" cy="566.6" r="3.5"/><circle cx="346.0" cy="570.6" r="3.5"/><circle cx="352.7" cy="568.2" r="3.5"/><circle cx="346.0" cy="579.5" r="3.5"/><circle cx="335.8" cy="585.1" r="3.5"/><circle cx="343.1" cy="584.3" r="3.5"/><circle cx="349.5" cy="585.1" r="3.5"/><circle cx="356.7" cy="585.1" r="3.5"/><circle cx="362.4" cy="585.9" r="3.5"/><circle cx="332.6" cy="589.9" r="3.5"/><circle cx="339.9" cy="589.9" r="3.5"/><circle cx="346.0" cy="589.1" r="3.5"/><circle cx="352.7" cy="590.7" r="3.5"/><circle cx="359.1" cy="589.1" r="3.5"/><circle cx="327.8" cy="594.7" r="3.5"/><circle cx="340.7" cy="594.7" r="3.5"/><circle cx="346.0" cy="593.9" r="3.5"/><circle cx="352.7" cy="594.7" r="3.5"/><circle cx="343.1" cy="599.6" r="3.5"/><circle cx="349.5" cy="599.6" r="3.5"/><circle cx="329.4" cy="604.4" r="3.5"/><circle cx="336.6" cy="604.4" r="3.5"/><circle cx="343.1" cy="603.6" r="3.5"/><circle cx="347.9" cy="603.6" r="3.5"/><circle cx="352.7" cy="605.2" r="3.5"/><circle cx="358.3" cy="604.4" r="3.5"/><circle cx="365.7" cy="604.0" r="3.5"/><circle cx="329.4" cy="608.4" r="3.5"/><circle cx="339.1" cy="609.2" r="3.5"/><circle cx="346.0" cy="608.4" r="3.5"/><circle cx="352.7" cy="609.2" r="3.5"/><circle cx="359.1" cy="609.2" r="3.5"/><circle cx="338.2" cy="616.4" r="3.5"/><circle cx="346.0" cy="614.0" r="3.5"/><circle cx="352.7" cy="616.4" r="3.5"/><circle cx="361.6" cy="614.0" r="3.5"/><circle cx="346.0" cy="620.4" r="3.5"/><circle cx="352.7" cy="620.4" r="3.5"/><circle cx="361.6" cy="620.4" r="3.5"/><circle cx="333.4" cy="630.9" r="3.5"/><circle cx="340.7" cy="632.5" r="3.5"/><circle cx="346.0" cy="629.3" r="3.5"/><circle cx="351.9" cy="626.9" r="3.5"/><circle cx="357.5" cy="630.9" r="3.5"/><circle cx="346.0" cy="635.7" r="3.5"/><circle cx="352.7" cy="634.9" r="3.5"/><circle cx="331.0" cy="642.1" r="3.5"/><circle cx="338.2" cy="642.9" r="3.5"/><circle cx="346.0" cy="640.5" r="3.5"/><circle cx="353.5" cy="639.7" r="3.5"/><circle cx="361.6" cy="642.9" r="3.5"/><circle cx="338.2" cy="647.0" r="3.5"/><circle cx="346.0" cy="645.4" r="3.5"/><circle cx="353.5" cy="645.4" r="3.5"/><circle cx="331.8" cy="653.4" r="3.5"/><circle cx="338.2" cy="656.6" r="3.5"/><circle cx="346.0" cy="652.6" r="3.5"/><circle cx="353.5" cy="656.6" r="3.5"/><circle cx="359.9" cy="654.2" r="3.5"/><circle cx="346.0" cy="657.4" r="3.5"/><circle cx="340.7" cy="663.8" r="3.5"/><circle cx="348.7" cy="664.6" r="3.5"/><circle cx="346.0" cy="669.5" r="3.5"/><circle cx="346.0" cy="674.3" r="3.5"/><circle cx="383.5" cy="471.0" r="3.5"/><circle cx="383.5" cy="477.4" r="3.5"/><circle cx="383.5" cy="482.2" r="3.5"/><circle cx="376.2" cy="489.1" r="3.5"/><circle cx="383.5" cy="487.1" r="3.5"/><circle cx="383.5" cy="491.1" r="3.5"/><circle cx="390.7" cy="489.1" r="3.5"/><circle cx="383.5" cy="499.1" r="3.5"/><circle cx="383.5" cy="503.6" r="3.5"/><circle cx="391.5" cy="503.1" r="3.5"/><circle cx="383.5" cy="512.3" r="3.5"/><circle cx="383.5" cy="516.8" r="3.5"/><circle cx="390.7" cy="516.8" r="3.5"/><circle cx="375.4" cy="522.4" r="3.5"/><circle cx="383.5" cy="520.8" r="3.5"/><circle cx="390.7" cy="521.6" r="3.5"/><circle cx="390.7" cy="524.8" r="3.5"/><circle cx="383.5" cy="526.4" r="3.5"/><circle cx="383.5" cy="531.2" r="3.5"/><circle cx="383.5" cy="536.1" r="3.5"/><circle cx="385.9" cy="540.9" r="3.5"/><circle cx="383.5" cy="544.9" r="3.5"/><circle cx="391.5" cy="546.5" r="3.5"/><circle cx="383.5" cy="549.7" r="3.5"/><circle cx="368.2" cy="552.9" r="3.5"/><circle cx="376.2" cy="553.4" r="3.5"/><circle cx="383.5" cy="553.8" r="3.5"/><circle cx="390.7" cy="553.8" r="3.5"/><circle cx="383.5" cy="558.6" r="3.5"/><circle cx="383.5" cy="565.0" r="3.5"/><circle cx="383.5" cy="571.4" r="3.5"/><circle cx="376.2" cy="574.6" r="3.5"/><circle cx="390.7" cy="575.4" r="3.5"/><circle cx="383.5" cy="577.1" r="3.5"/><circle cx="391.5" cy="580.3" r="3.5"/><circle cx="383.5" cy="581.9" r="3.5"/><circle cx="367.4" cy="586.7" r="3.5"/><circle cx="376.2" cy="586.7" r="3.5"/><circle cx="383.5" cy="585.1" r="3.5"/><circle cx="390.7" cy="586.7" r="3.5"/><circle cx="398.8" cy="585.9" r="3.5"/><circle cx="381.1" cy="591.5" r="3.5"/><circle cx="387.5" cy="590.7" r="3.5"/><circle cx="392.3" cy="593.1" r="3.5"/><circle cx="381.1" cy="597.1" r="3.5"/><circle cx="387.5" cy="596.3" r="3.5"/><circle cx="373.0" cy="599.6" r="3.5"/><circle cx="395.5" cy="599.6" r="3.5"/><circle cx="383.5" cy="602.8" r="3.5"/><circle cx="389.1" cy="602.8" r="3.5"/><circle cx="399.6" cy="606.0" r="3.5"/><circle cx="369.0" cy="613.2" r="3.5"/><circle cx="376.2" cy="614.0" r="3.5"/><circle cx="383.5" cy="611.6" r="3.5"/><circle cx="391.5" cy="613.2" r="3.5"/><circle cx="401.2" cy="617.2" r="3.5"/><circle cx="369.0" cy="619.6" r="3.5"/><circle cx="374.6" cy="619.6" r="3.5"/><circle cx="380.3" cy="618.0" r="3.5"/><circle cx="385.9" cy="618.8" r="3.5"/><circle cx="393.1" cy="619.6" r="3.5"/><circle cx="400.4" cy="620.4" r="3.5"/><circle cx="371.4" cy="624.5" r="3.5"/><circle cx="377.9" cy="624.5" r="3.5"/><circle cx="383.5" cy="622.9" r="3.5"/><circle cx="390.7" cy="626.9" r="3.5"/><circle cx="380.3" cy="632.5" r="3.5"/><circle cx="385.9" cy="633.3" r="3.5"/><circle cx="398.8" cy="634.1" r="3.5"/><circle cx="377.9" cy="638.1" r="3.5"/><circle cx="383.5" cy="637.3" r="3.5"/><circle cx="391.5" cy="638.1" r="3.5"/><circle cx="377.9" cy="642.1" r="3.5"/><circle cx="383.5" cy="643.8" r="3.5"/><circle cx="391.5" cy="642.9" r="3.5"/><circle cx="367.4" cy="650.2" r="3.5"/><circle cx="376.2" cy="651.0" r="3.5"/><circle cx="383.5" cy="651.8" r="3.5"/><circle cx="391.5" cy="651.8" r="3.5"/><circle cx="383.5" cy="656.6" r="3.5"/><circle cx="391.5" cy="656.6" r="3.5"/><circle cx="375.4" cy="661.4" r="3.5"/><circle cx="383.5" cy="661.4" r="3.5"/><circle cx="390.7" cy="661.4" r="3.5"/><circle cx="396.3" cy="663.0" r="3.5"/><circle cx="378.7" cy="665.4" r="3.5"/><circle cx="383.5" cy="667.1" r="3.5"/><circle cx="391.5" cy="665.4" r="3.5"/><circle cx="383.5" cy="671.9" r="3.5"/><circle cx="420.5" cy="453.8" r="3.5"/><circle cx="420.5" cy="478.5" r="3.5"/><circle cx="420.5" cy="487.5" r="3.5"/><circle cx="413.2" cy="492.7" r="3.5"/><circle cx="418.1" cy="495.1" r="3.5"/><circle cx="424.5" cy="494.3" r="3.5"/><circle cx="415.7" cy="499.1" r="3.5"/><circle cx="420.5" cy="498.3" r="3.5"/><circle cx="428.5" cy="501.5" r="3.5"/><circle cx="414.1" cy="505.2" r="3.5"/><circle cx="420.5" cy="503.9" r="3.5"/><circle cx="434.1" cy="505.5" r="3.5"/><circle cx="418.1" cy="509.6" r="3.5"/><circle cx="427.7" cy="507.1" r="3.5"/><circle cx="416.5" cy="512.0" r="3.5"/><circle cx="421.3" cy="512.0" r="3.5"/><circle cx="427.7" cy="512.8" r="3.5"/><circle cx="420.5" cy="518.4" r="3.5"/><circle cx="420.5" cy="524.8" r="3.5"/><circle cx="428.5" cy="524.0" r="3.5"/><circle cx="420.5" cy="535.3" r="3.5"/><circle cx="412.4" cy="547.3" r="3.5"/><circle cx="420.5" cy="548.6" r="3.5"/><circle cx="428.5" cy="548.6" r="3.5"/><circle cx="413.2" cy="559.4" r="3.5"/><circle cx="420.5" cy="557.8" r="3.5"/><circle cx="427.7" cy="559.4" r="3.5"/><circle cx="433.3" cy="557.8" r="3.5"/><circle cx="420.5" cy="562.6" r="3.5"/><circle cx="408.4" cy="571.4" r="3.5"/><circle cx="414.1" cy="574.6" r="3.5"/><circle cx="420.5" cy="572.2" r="3.5"/><circle cx="420.5" cy="576.2" r="3.5"/><circle cx="427.7" cy="574.6" r="3.5"/><circle cx="435.8" cy="573.8" r="3.5"/><circle cx="406.0" cy="583.5" r="3.5"/><circle cx="414.1" cy="584.3" r="3.5"/><circle cx="420.5" cy="585.1" r="3.5"/><circle cx="427.7" cy="584.3" r="3.5"/><circle cx="414.1" cy="589.1" r="3.5"/><circle cx="420.5" cy="590.7" r="3.5"/><circle cx="420.5" cy="595.5" r="3.5"/><circle cx="428.5" cy="598.8" r="3.5"/><circle cx="413.2" cy="602.0" r="3.5"/><circle cx="420.5" cy="600.4" r="3.5"/><circle cx="428.5" cy="603.6" r="3.5"/><circle cx="405.2" cy="607.6" r="3.5"/><circle cx="413.2" cy="608.4" r="3.5"/><circle cx="420.5" cy="606.0" r="3.5"/><circle cx="428.5" cy="608.4" r="3.5"/><circle cx="434.9" cy="608.4" r="3.5"/><circle cx="414.1" cy="613.2" r="3.5"/><circle cx="420.5" cy="611.6" r="3.5"/><circle cx="428.5" cy="613.2" r="3.5"/><circle cx="408.4" cy="620.4" r="3.5"/><circle cx="414.1" cy="618.0" r="3.5"/><circle cx="420.5" cy="616.4" r="3.5"/><circle cx="428.5" cy="618.0" r="3.5"/><circle cx="406.0" cy="626.9" r="3.5"/><circle cx="414.1" cy="625.3" r="3.5"/><circle cx="420.5" cy="622.1" r="3.5"/><circle cx="427.7" cy="622.1" r="3.5"/><circle cx="406.0" cy="634.1" r="3.5"/><circle cx="414.1" cy="631.7" r="3.5"/><circle cx="420.5" cy="629.3" r="3.5"/><circle cx="428.5" cy="629.3" r="3.5"/><circle cx="435.8" cy="634.9" r="3.5"/><circle cx="409.2" cy="638.9" r="3.5"/><circle cx="415.7" cy="637.3" r="3.5"/><circle cx="420.5" cy="635.7" r="3.5"/><circle cx="427.7" cy="637.3" r="3.5"/><circle cx="414.9" cy="642.1" r="3.5"/><circle cx="420.5" cy="641.3" r="3.5"/><circle cx="420.5" cy="647.0" r="3.5"/><circle cx="428.5" cy="648.6" r="3.5"/><circle cx="406.0" cy="653.4" r="3.5"/><circle cx="413.2" cy="655.0" r="3.5"/><circle cx="420.5" cy="652.6" r="3.5"/><circle cx="428.5" cy="653.4" r="3.5"/><circle cx="435.8" cy="653.4" r="3.5"/><circle cx="406.0" cy="657.4" r="3.5"/><circle cx="414.1" cy="659.8" r="3.5"/><circle cx="420.5" cy="658.2" r="3.5"/><circle cx="428.5" cy="658.2" r="3.5"/><circle cx="414.1" cy="663.0" r="3.5"/><circle cx="420.5" cy="663.8" r="3.5"/><circle cx="428.5" cy="663.0" r="3.5"/><circle cx="413.2" cy="667.9" r="3.5"/><circle cx="420.5" cy="669.5" r="3.5"/><circle cx="428.5" cy="668.7" r="3.5"/><circle cx="420.5" cy="674.3" r="3.5"/><circle cx="458.0" cy="439.3" r="3.5"/><circle cx="458.0" cy="472.6" r="3.5"/><circle cx="458.0" cy="475.8" r="3.5"/><circle cx="458.0" cy="487.9" r="3.5"/><circle cx="458.0" cy="491.9" r="3.5"/><circle cx="465.5" cy="491.9" r="3.5"/><circle cx="458.0" cy="495.9" r="3.5"/><circle cx="465.5" cy="495.9" r="3.5"/><circle cx="458.0" cy="499.9" r="3.5"/><circle cx="446.2" cy="506.3" r="3.5"/><circle cx="454.3" cy="507.1" r="3.5"/><circle cx="458.0" cy="509.6" r="3.5"/><circle cx="463.1" cy="507.9" r="3.5"/><circle cx="458.0" cy="513.6" r="3.5"/><circle cx="458.0" cy="519.2" r="3.5"/><circle cx="453.5" cy="523.2" r="3.5"/><circle cx="458.0" cy="524.8" r="3.5"/><circle cx="462.3" cy="524.0" r="3.5"/><circle cx="456.7" cy="528.0" r="3.5"/><circle cx="462.3" cy="528.0" r="3.5"/><circle cx="458.0" cy="532.9" r="3.5"/><circle cx="464.7" cy="532.9" r="3.5"/><circle cx="458.0" cy="544.1" r="3.5"/><circle cx="458.0" cy="554.6" r="3.5"/><circle cx="451.1" cy="564.4" r="3.5"/><circle cx="458.0" cy="561.0" r="3.5"/><circle cx="465.5" cy="558.6" r="3.5"/><circle cx="470.3" cy="561.8" r="3.5"/><circle cx="465.1" cy="564.6" r="3.5"/><circle cx="458.0" cy="566.6" r="3.5"/><circle cx="458.0" cy="571.4" r="3.5"/><circle cx="454.3" cy="575.4" r="3.5"/><circle cx="461.5" cy="575.4" r="3.5"/><circle cx="445.4" cy="580.3" r="3.5"/><circle cx="452.7" cy="580.3" r="3.5"/><circle cx="458.0" cy="579.5" r="3.5"/><circle cx="468.7" cy="580.3" r="3.5"/><circle cx="458.0" cy="585.1" r="3.5"/><circle cx="443.8" cy="589.1" r="3.5"/><circle cx="451.1" cy="589.9" r="3.5"/><circle cx="458.0" cy="589.1" r="3.5"/><circle cx="464.7" cy="589.9" r="3.5"/><circle cx="451.1" cy="595.5" r="3.5"/><circle cx="458.0" cy="594.7" r="3.5"/><circle cx="465.5" cy="595.5" r="3.5"/><circle cx="451.1" cy="599.6" r="3.5"/><circle cx="458.0" cy="598.8" r="3.5"/><circle cx="465.5" cy="600.4" r="3.5"/><circle cx="458.0" cy="604.4" r="3.5"/><circle cx="465.5" cy="605.2" r="3.5"/><circle cx="451.1" cy="610.0" r="3.5"/><circle cx="458.0" cy="609.2" r="3.5"/><circle cx="465.5" cy="609.2" r="3.5"/><circle cx="453.5" cy="614.8" r="3.5"/><circle cx="458.0" cy="614.0" r="3.5"/><circle cx="465.5" cy="615.6" r="3.5"/><circle cx="458.0" cy="619.6" r="3.5"/><circle cx="465.5" cy="620.4" r="3.5"/><circle cx="458.0" cy="624.5" r="3.5"/><circle cx="443.0" cy="630.1" r="3.5"/><circle cx="450.2" cy="630.9" r="3.5"/><circle cx="458.0" cy="629.3" r="3.5"/><circle cx="465.5" cy="630.9" r="3.5"/><circle cx="472.8" cy="630.1" r="3.5"/><circle cx="446.2" cy="634.1" r="3.5"/><circle cx="452.7" cy="635.7" r="3.5"/><circle cx="458.0" cy="634.1" r="3.5"/><circle cx="464.7" cy="635.7" r="3.5"/><circle cx="451.1" cy="641.3" r="3.5"/><circle cx="458.0" cy="639.7" r="3.5"/><circle cx="465.5" cy="641.3" r="3.5"/><circle cx="468.7" cy="641.3" r="3.5"/><circle cx="458.0" cy="645.4" r="3.5"/><circle cx="464.7" cy="645.4" r="3.5"/><circle cx="458.0" cy="649.4" r="3.5"/><circle cx="441.4" cy="653.4" r="3.5"/><circle cx="450.2" cy="654.2" r="3.5"/><circle cx="458.0" cy="652.6" r="3.5"/><circle cx="465.5" cy="653.4" r="3.5"/><circle cx="472.8" cy="652.6" r="3.5"/><circle cx="450.2" cy="661.4" r="3.5"/><circle cx="458.0" cy="658.2" r="3.5"/><circle cx="465.5" cy="659.8" r="3.5"/><circle cx="446.2" cy="665.4" r="3.5"/><circle cx="451.1" cy="666.2" r="3.5"/><circle cx="458.0" cy="663.8" r="3.5"/><circle cx="465.5" cy="665.4" r="3.5"/><circle cx="473.6" cy="665.4" r="3.5"/><circle cx="451.1" cy="671.1" r="3.5"/><circle cx="458.0" cy="669.5" r="3.5"/><circle cx="465.5" cy="671.1" r="3.5"/><circle cx="471.1" cy="670.3" r="3.5"/><circle cx="458.0" cy="675.9" r="3.5"/><circle cx="465.5" cy="675.9" r="3.5"/><circle cx="458.0" cy="678.3" r="3.5"/><circle cx="495.5" cy="443.7" r="3.5"/><circle cx="495.5" cy="483.8" r="3.5"/><circle cx="495.5" cy="487.1" r="3.5"/><circle cx="484.2" cy="498.8" r="3.5"/><circle cx="490.7" cy="500.7" r="3.5"/><circle cx="495.5" cy="495.9" r="3.5"/><circle cx="502.7" cy="500.7" r="3.5"/><circle cx="509.9" cy="497.5" r="3.5"/><circle cx="489.1" cy="505.5" r="3.5"/><circle cx="495.5" cy="503.9" r="3.5"/><circle cx="501.9" cy="505.5" r="3.5"/><circle cx="495.5" cy="510.4" r="3.5"/><circle cx="495.5" cy="514.4" r="3.5"/><circle cx="495.5" cy="518.4" r="3.5"/><circle cx="501.1" cy="520.0" r="3.5"/><circle cx="494.7" cy="522.4" r="3.5"/><circle cx="490.7" cy="527.2" r="3.5"/><circle cx="495.5" cy="529.6" r="3.5"/><circle cx="502.7" cy="528.8" r="3.5"/><circle cx="499.5" cy="540.9" r="3.5"/><circle cx="495.5" cy="544.9" r="3.5"/><circle cx="503.5" cy="548.9" r="3.5"/><circle cx="495.5" cy="548.9" r="3.5"/><circle cx="492.3" cy="557.8" r="3.5"/><circle cx="499.5" cy="557.0" r="3.5"/><circle cx="495.5" cy="562.6" r="3.5"/><circle cx="495.5" cy="567.4" r="3.5"/><circle cx="502.7" cy="567.4" r="3.5"/><circle cx="499.5" cy="576.2" r="3.5"/><circle cx="489.1" cy="581.9" r="3.5"/><circle cx="495.5" cy="580.3" r="3.5"/><circle cx="502.7" cy="581.9" r="3.5"/><circle cx="495.5" cy="589.1" r="3.5"/><circle cx="485.8" cy="597.1" r="3.5"/><circle cx="492.3" cy="598.8" r="3.5"/><circle cx="499.5" cy="597.1" r="3.5"/><circle cx="481.0" cy="602.8" r="3.5"/><circle cx="488.2" cy="603.6" r="3.5"/><circle cx="495.5" cy="601.2" r="3.5"/><circle cx="502.7" cy="603.6" r="3.5"/><circle cx="480.2" cy="607.6" r="3.5"/><circle cx="488.2" cy="608.4" r="3.5"/><circle cx="495.5" cy="606.8" r="3.5"/><circle cx="502.7" cy="607.6" r="3.5"/><circle cx="510.8" cy="607.6" r="3.5"/><circle cx="485.8" cy="613.2" r="3.5"/><circle cx="492.3" cy="613.2" r="3.5"/><circle cx="497.9" cy="613.2" r="3.5"/><circle cx="504.3" cy="614.0" r="3.5"/><circle cx="480.2" cy="618.8" r="3.5"/><circle cx="488.2" cy="619.6" r="3.5"/><circle cx="495.5" cy="617.2" r="3.5"/><circle cx="502.7" cy="618.8" r="3.5"/><circle cx="510.8" cy="618.0" r="3.5"/><circle cx="487.4" cy="624.5" r="3.5"/><circle cx="495.5" cy="622.9" r="3.5"/><circle cx="502.7" cy="625.3" r="3.5"/><circle cx="510.8" cy="624.5" r="3.5"/><circle cx="495.5" cy="628.5" r="3.5"/><circle cx="503.5" cy="626.9" r="3.5"/><circle cx="481.8" cy="635.7" r="3.5"/><circle cx="489.1" cy="636.5" r="3.5"/><circle cx="495.5" cy="634.1" r="3.5"/><circle cx="502.7" cy="635.7" r="3.5"/><circle cx="510.8" cy="635.7" r="3.5"/><circle cx="481.8" cy="642.9" r="3.5"/><circle cx="489.1" cy="643.8" r="3.5"/><circle cx="495.5" cy="640.5" r="3.5"/><circle cx="502.7" cy="643.8" r="3.5"/><circle cx="510.8" cy="643.8" r="3.5"/><circle cx="495.5" cy="647.0" r="3.5"/><circle cx="502.7" cy="649.4" r="3.5"/><circle cx="481.0" cy="653.4" r="3.5"/><circle cx="488.2" cy="655.0" r="3.5"/><circle cx="495.5" cy="652.6" r="3.5"/><circle cx="502.7" cy="654.2" r="3.5"/><circle cx="481.0" cy="658.2" r="3.5"/><circle cx="489.1" cy="657.4" r="3.5"/><circle cx="495.5" cy="658.2" r="3.5"/><circle cx="502.7" cy="658.2" r="3.5"/><circle cx="480.2" cy="664.6" r="3.5"/><circle cx="488.2" cy="665.4" r="3.5"/><circle cx="495.5" cy="663.0" r="3.5"/><circle cx="502.7" cy="664.6" r="3.5"/><circle cx="514.0" cy="663.4" r="3.5"/><circle cx="495.5" cy="667.9" r="3.5"/><circle cx="502.7" cy="669.5" r="3.5"/><circle cx="495.5" cy="673.5" r="3.5"/><circle cx="495.5" cy="679.1" r="3.5"/><circle cx="532.5" cy="467.0" r="3.5"/><circle cx="532.5" cy="477.9" r="3.5"/><circle cx="532.5" cy="490.8" r="3.5"/><circle cx="516.4" cy="495.9" r="3.5"/><circle cx="520.4" cy="498.8" r="3.5"/><circle cx="525.2" cy="495.9" r="3.5"/><circle cx="527.7" cy="499.1" r="3.5"/><circle cx="532.5" cy="495.9" r="3.5"/><circle cx="532.5" cy="500.7" r="3.5"/><circle cx="539.7" cy="495.9" r="3.5"/><circle cx="540.5" cy="499.9" r="3.5"/><circle cx="545.3" cy="497.8" r="3.5"/><circle cx="532.5" cy="508.8" r="3.5"/><circle cx="532.5" cy="513.6" r="3.5"/><circle cx="536.5" cy="514.4" r="3.5"/><circle cx="532.5" cy="518.1" r="3.5"/><circle cx="527.7" cy="524.8" r="3.5"/><circle cx="532.5" cy="527.2" r="3.5"/><circle cx="538.9" cy="525.6" r="3.5"/><circle cx="532.5" cy="535.3" r="3.5"/><circle cx="540.5" cy="535.3" r="3.5"/><circle cx="532.5" cy="540.1" r="3.5"/><circle cx="537.3" cy="537.7" r="3.5"/><circle cx="530.1" cy="546.5" r="3.5"/><circle cx="536.5" cy="548.1" r="3.5"/><circle cx="532.5" cy="552.9" r="3.5"/><circle cx="532.5" cy="557.0" r="3.5"/><circle cx="532.5" cy="561.8" r="3.5"/><circle cx="540.5" cy="563.4" r="3.5"/><circle cx="521.2" cy="566.0" r="3.5"/><circle cx="530.1" cy="567.4" r="3.5"/><circle cx="535.7" cy="566.6" r="3.5"/><circle cx="540.5" cy="567.4" r="3.5"/><circle cx="530.1" cy="572.2" r="3.5"/><circle cx="535.7" cy="572.2" r="3.5"/><circle cx="540.5" cy="572.2" r="3.5"/><circle cx="519.6" cy="576.2" r="3.5"/><circle cx="525.2" cy="578.7" r="3.5"/><circle cx="532.5" cy="577.9" r="3.5"/><circle cx="538.9" cy="579.5" r="3.5"/><circle cx="532.5" cy="582.7" r="3.5"/><circle cx="521.2" cy="592.3" r="3.5"/><circle cx="529.3" cy="593.1" r="3.5"/><circle cx="534.9" cy="595.5" r="3.5"/><circle cx="540.5" cy="594.7" r="3.5"/><circle cx="532.5" cy="598.8" r="3.5"/><circle cx="537.3" cy="599.6" r="3.5"/><circle cx="528.5" cy="603.6" r="3.5"/><circle cx="534.9" cy="604.4" r="3.5"/><circle cx="525.2" cy="609.2" r="3.5"/><circle cx="532.5" cy="607.6" r="3.5"/><circle cx="540.5" cy="609.2" r="3.5"/><circle cx="532.5" cy="614.0" r="3.5"/><circle cx="532.5" cy="618.0" r="3.5"/><circle cx="517.2" cy="617.2" r="3.5"/><circle cx="551.4" cy="613.2" r="3.5"/><circle cx="526.9" cy="622.1" r="3.5"/><circle cx="532.5" cy="622.1" r="3.5"/><circle cx="537.3" cy="622.9" r="3.5"/><circle cx="518.0" cy="626.1" r="3.5"/><circle cx="525.2" cy="626.1" r="3.5"/><circle cx="532.5" cy="626.1" r="3.5"/><circle cx="539.7" cy="626.9" r="3.5"/><circle cx="547.8" cy="625.3" r="3.5"/><circle cx="517.2" cy="630.9" r="3.5"/><circle cx="525.2" cy="630.9" r="3.5"/><circle cx="532.5" cy="630.1" r="3.5"/><circle cx="539.7" cy="630.9" r="3.5"/><circle cx="547.8" cy="630.9" r="3.5"/><circle cx="518.0" cy="635.7" r="3.5"/><circle cx="525.2" cy="635.7" r="3.5"/><circle cx="532.5" cy="634.9" r="3.5"/><circle cx="539.7" cy="635.7" r="3.5"/><circle cx="546.1" cy="635.7" r="3.5"/><circle cx="517.2" cy="644.6" r="3.5"/><circle cx="525.2" cy="644.6" r="3.5"/><circle cx="532.5" cy="640.5" r="3.5"/><circle cx="539.7" cy="642.1" r="3.5"/><circle cx="544.5" cy="645.4" r="3.5"/><circle cx="532.5" cy="646.2" r="3.5"/><circle cx="537.3" cy="649.4" r="3.5"/><circle cx="532.5" cy="652.6" r="3.5"/><circle cx="532.5" cy="657.4" r="3.5"/><circle cx="532.5" cy="663.0" r="3.5"/><circle cx="536.5" cy="666.2" r="3.5"/><circle cx="532.5" cy="670.3" r="3.5"/><circle cx="532.5" cy="675.9" r="3.5"/><circle cx="532.5" cy="681.5" r="3.5"/><circle cx="570.0" cy="468.2" r="3.5"/><circle cx="570.0" cy="481.4" r="3.5"/><circle cx="563.9" cy="491.9" r="3.5"/><circle cx="569.5" cy="492.7" r="3.5"/><circle cx="563.1" cy="495.9" r="3.5"/><circle cx="577.5" cy="491.9" r="3.5"/><circle cx="583.1" cy="495.1" r="3.5"/><circle cx="577.5" cy="496.7" r="3.5"/><circle cx="570.0" cy="499.1" r="3.5"/><circle cx="566.3" cy="503.1" r="3.5"/><circle cx="570.0" cy="506.3" r="3.5"/><circle cx="576.7" cy="504.7" r="3.5"/><circle cx="557.4" cy="518.1" r="3.5"/><circle cx="565.5" cy="517.6" r="3.5"/><circle cx="570.0" cy="520.8" r="3.5"/><circle cx="575.9" cy="519.2" r="3.5"/><circle cx="581.5" cy="517.6" r="3.5"/><circle cx="570.0" cy="524.8" r="3.5"/><circle cx="570.0" cy="532.1" r="3.5"/><circle cx="570.0" cy="537.7" r="3.5"/><circle cx="570.0" cy="545.7" r="3.5"/><circle cx="577.5" cy="545.7" r="3.5"/><circle cx="570.0" cy="552.1" r="3.5"/><circle cx="577.5" cy="552.1" r="3.5"/><circle cx="570.0" cy="558.6" r="3.5"/><circle cx="557.4" cy="563.8" r="3.5"/><circle cx="563.9" cy="564.6" r="3.5"/><circle cx="570.0" cy="564.6" r="3.5"/><circle cx="576.7" cy="564.6" r="3.5"/><circle cx="570.0" cy="571.4" r="3.5"/><circle cx="563.1" cy="577.1" r="3.5"/><circle cx="570.0" cy="577.1" r="3.5"/><circle cx="577.5" cy="577.9" r="3.5"/><circle cx="566.3" cy="583.5" r="3.5"/><circle cx="572.7" cy="581.9" r="3.5"/><circle cx="577.5" cy="585.1" r="3.5"/><circle cx="566.3" cy="589.1" r="3.5"/><circle cx="572.7" cy="589.1" r="3.5"/><circle cx="577.5" cy="589.1" r="3.5"/><circle cx="559.0" cy="598.8" r="3.5"/><circle cx="566.3" cy="597.1" r="3.5"/><circle cx="570.0" cy="595.5" r="3.5"/><circle cx="575.1" cy="598.8" r="3.5"/><circle cx="583.1" cy="595.5" r="3.5"/><circle cx="564.7" cy="602.8" r="3.5"/><circle cx="570.0" cy="602.0" r="3.5"/><circle cx="576.7" cy="602.0" r="3.5"/><circle cx="563.1" cy="609.2" r="3.5"/><circle cx="570.0" cy="607.6" r="3.5"/><circle cx="576.7" cy="608.4" r="3.5"/><circle cx="559.8" cy="614.0" r="3.5"/><circle cx="566.3" cy="612.4" r="3.5"/><circle cx="572.7" cy="612.4" r="3.5"/><circle cx="579.9" cy="614.0" r="3.5"/><circle cx="588.1" cy="612.4" r="3.5"/><circle cx="569.5" cy="618.0" r="3.5"/><circle cx="553.4" cy="625.3" r="3.5"/><circle cx="559.0" cy="625.3" r="3.5"/><circle cx="564.7" cy="626.1" r="3.5"/><circle cx="570.0" cy="623.7" r="3.5"/><circle cx="576.7" cy="625.3" r="3.5"/><circle cx="583.1" cy="624.5" r="3.5"/><circle cx="587.2" cy="624.5" r="3.5"/><circle cx="553.4" cy="630.9" r="3.5"/><circle cx="559.0" cy="630.9" r="3.5"/><circle cx="564.7" cy="630.9" r="3.5"/><circle cx="570.0" cy="629.3" r="3.5"/><circle cx="576.7" cy="630.9" r="3.5"/><circle cx="583.1" cy="630.9" r="3.5"/><circle cx="587.2" cy="630.1" r="3.5"/><circle cx="552.6" cy="636.5" r="3.5"/><circle cx="559.0" cy="637.3" r="3.5"/><circle cx="564.7" cy="636.5" r="3.5"/><circle cx="570.0" cy="635.7" r="3.5"/><circle cx="576.7" cy="636.5" r="3.5"/><circle cx="583.1" cy="635.7" r="3.5"/><circle cx="552.6" cy="644.6" r="3.5"/><circle cx="558.2" cy="642.1" r="3.5"/><circle cx="564.7" cy="642.1" r="3.5"/><circle cx="570.0" cy="642.1" r="3.5"/><circle cx="576.7" cy="642.9" r="3.5"/><circle cx="583.1" cy="643.8" r="3.5"/><circle cx="587.2" cy="640.5" r="3.5"/><circle cx="562.2" cy="650.2" r="3.5"/><circle cx="570.0" cy="648.6" r="3.5"/><circle cx="577.5" cy="649.4" r="3.5"/><circle cx="584.8" cy="647.0" r="3.5"/><circle cx="562.2" cy="654.2" r="3.5"/><circle cx="570.0" cy="655.0" r="3.5"/><circle cx="577.5" cy="654.2" r="3.5"/><circle cx="570.0" cy="662.2" r="3.5"/><circle cx="574.3" cy="667.1" r="3.5"/><circle cx="570.0" cy="669.5" r="3.5"/><circle cx="570.0" cy="675.9" r="3.5"/><circle cx="570.0" cy="683.1" r="3.5"/><circle cx="607.2" cy="468.9" r="3.5"/><circle cx="607.2" cy="478.2" r="3.5"/><circle cx="607.2" cy="487.1" r="3.5"/><circle cx="607.2" cy="491.1" r="3.5"/><circle cx="607.2" cy="495.1" r="3.5"/><circle cx="614.7" cy="495.1" r="3.5"/><circle cx="600.2" cy="500.7" r="3.5"/><circle cx="607.2" cy="499.1" r="3.5"/><circle cx="613.1" cy="500.7" r="3.5"/><circle cx="616.3" cy="499.1" r="3.5"/><circle cx="605.1" cy="503.9" r="3.5"/><circle cx="611.5" cy="503.9" r="3.5"/><circle cx="607.2" cy="507.1" r="3.5"/><circle cx="614.7" cy="505.5" r="3.5"/><circle cx="607.2" cy="511.2" r="3.5"/><circle cx="613.1" cy="510.4" r="3.5"/><circle cx="607.2" cy="515.2" r="3.5"/><circle cx="611.5" cy="517.6" r="3.5"/><circle cx="607.2" cy="520.0" r="3.5"/><circle cx="603.5" cy="526.4" r="3.5"/><circle cx="607.2" cy="529.6" r="3.5"/><circle cx="612.3" cy="527.2" r="3.5"/><circle cx="607.2" cy="540.9" r="3.5"/><circle cx="614.7" cy="540.9" r="3.5"/><circle cx="603.5" cy="548.9" r="3.5"/><circle cx="607.2" cy="551.3" r="3.5"/><circle cx="615.5" cy="550.5" r="3.5"/><circle cx="607.2" cy="561.0" r="3.5"/><circle cx="598.6" cy="565.0" r="3.5"/><circle cx="605.1" cy="565.0" r="3.5"/><circle cx="617.5" cy="566.0" r="3.5"/><circle cx="611.5" cy="565.8" r="3.5"/><circle cx="607.2" cy="571.4" r="3.5"/><circle cx="614.7" cy="572.2" r="3.5"/><circle cx="607.2" cy="576.2" r="3.5"/><circle cx="614.7" cy="577.1" r="3.5"/><circle cx="607.2" cy="581.1" r="3.5"/><circle cx="614.7" cy="579.5" r="3.5"/><circle cx="607.2" cy="585.1" r="3.5"/><circle cx="602.7" cy="592.3" r="3.5"/><circle cx="609.9" cy="591.5" r="3.5"/><circle cx="615.5" cy="593.1" r="3.5"/><circle cx="591.4" cy="597.1" r="3.5"/><circle cx="599.4" cy="597.1" r="3.5"/><circle cx="606.7" cy="596.3" r="3.5"/><circle cx="615.5" cy="597.9" r="3.5"/><circle cx="622.8" cy="597.1" r="3.5"/><circle cx="597.0" cy="603.6" r="3.5"/><circle cx="604.3" cy="602.8" r="3.5"/><circle cx="611.5" cy="603.6" r="3.5"/><circle cx="621.9" cy="603.6" r="3.5"/><circle cx="607.2" cy="607.6" r="3.5"/><circle cx="613.9" cy="607.6" r="3.5"/><circle cx="599.4" cy="614.8" r="3.5"/><circle cx="607.2" cy="610.8" r="3.5"/><circle cx="614.7" cy="612.4" r="3.5"/><circle cx="596.2" cy="620.4" r="3.5"/><circle cx="602.7" cy="618.8" r="3.5"/><circle cx="607.2" cy="616.4" r="3.5"/><circle cx="613.1" cy="618.0" r="3.5"/><circle cx="591.4" cy="625.3" r="3.5"/><circle cx="597.0" cy="624.5" r="3.5"/><circle cx="602.7" cy="625.3" r="3.5"/><circle cx="607.2" cy="622.9" r="3.5"/><circle cx="612.3" cy="623.7" r="3.5"/><circle cx="618.7" cy="624.5" r="3.5"/><circle cx="626.0" cy="625.7" r="3.5"/><circle cx="593.8" cy="630.9" r="3.5"/><circle cx="601.1" cy="630.9" r="3.5"/><circle cx="607.2" cy="629.3" r="3.5"/><circle cx="613.1" cy="630.1" r="3.5"/><circle cx="619.5" cy="629.3" r="3.5"/><circle cx="624.4" cy="629.3" r="3.5"/><circle cx="601.1" cy="634.1" r="3.5"/><circle cx="607.2" cy="634.1" r="3.5"/><circle cx="607.2" cy="638.9" r="3.5"/><circle cx="614.7" cy="638.1" r="3.5"/><circle cx="593.0" cy="644.6" r="3.5"/><circle cx="600.2" cy="643.8" r="3.5"/><circle cx="607.2" cy="642.9" r="3.5"/><circle cx="614.7" cy="642.9" r="3.5"/><circle cx="623.6" cy="645.4" r="3.5"/><circle cx="601.1" cy="647.8" r="3.5"/><circle cx="607.2" cy="648.6" r="3.5"/><circle cx="613.9" cy="648.6" r="3.5"/><circle cx="607.2" cy="652.6" r="3.5"/><circle cx="607.2" cy="662.2" r="3.5"/><circle cx="607.2" cy="667.1" r="3.5"/><circle cx="615.5" cy="667.1" r="3.5"/><circle cx="607.2" cy="671.1" r="3.5"/><circle cx="615.5" cy="671.9" r="3.5"/><circle cx="607.2" cy="675.1" r="3.5"/><circle cx="615.5" cy="674.3" r="3.5"/><circle cx="644.5" cy="468.6" r="3.5"/><circle cx="644.5" cy="479.5" r="3.5"/><circle cx="644.5" cy="490.3" r="3.5"/><circle cx="652.5" cy="489.5" r="3.5"/><circle cx="648.5" cy="494.3" r="3.5"/><circle cx="630.8" cy="499.6" r="3.5"/><circle cx="638.9" cy="500.4" r="3.5"/><circle cx="644.5" cy="497.5" r="3.5"/><circle cx="651.7" cy="500.7" r="3.5"/><circle cx="644.5" cy="504.7" r="3.5"/><circle cx="637.2" cy="510.4" r="3.5"/><circle cx="644.5" cy="508.8" r="3.5"/><circle cx="644.5" cy="512.0" r="3.5"/><circle cx="651.7" cy="512.0" r="3.5"/><circle cx="658.9" cy="509.6" r="3.5"/><circle cx="638.9" cy="517.6" r="3.5"/><circle cx="644.5" cy="520.8" r="3.5"/><circle cx="650.1" cy="518.4" r="3.5"/><circle cx="644.5" cy="530.4" r="3.5"/><circle cx="652.5" cy="530.0" r="3.5"/><circle cx="644.5" cy="535.3" r="3.5"/><circle cx="644.5" cy="540.9" r="3.5"/><circle cx="651.7" cy="542.5" r="3.5"/><circle cx="644.5" cy="544.1" r="3.5"/><circle cx="641.3" cy="550.9" r="3.5"/><circle cx="644.5" cy="554.6" r="3.5"/><circle cx="650.1" cy="552.1" r="3.5"/><circle cx="635.6" cy="564.6" r="3.5"/><circle cx="642.1" cy="565.0" r="3.5"/><circle cx="648.1" cy="564.2" r="3.5"/><circle cx="653.7" cy="565.4" r="3.5"/><circle cx="642.1" cy="570.6" r="3.5"/><circle cx="648.5" cy="570.6" r="3.5"/><circle cx="652.5" cy="571.4" r="3.5"/><circle cx="644.5" cy="575.4" r="3.5"/><circle cx="644.5" cy="579.5" r="3.5"/><circle cx="637.2" cy="585.1" r="3.5"/><circle cx="644.5" cy="584.3" r="3.5"/><circle cx="650.9" cy="586.7" r="3.5"/><circle cx="654.9" cy="589.1" r="3.5"/><circle cx="629.2" cy="594.7" r="3.5"/><circle cx="637.2" cy="594.7" r="3.5"/><circle cx="642.1" cy="590.7" r="3.5"/><circle cx="648.5" cy="592.3" r="3.5"/><circle cx="653.3" cy="593.1" r="3.5"/><circle cx="632.4" cy="602.0" r="3.5"/><circle cx="639.7" cy="602.0" r="3.5"/><circle cx="644.5" cy="598.8" r="3.5"/><circle cx="650.9" cy="602.8" r="3.5"/><circle cx="658.9" cy="602.0" r="3.5"/><circle cx="644.5" cy="606.0" r="3.5"/><circle cx="644.5" cy="611.6" r="3.5"/><circle cx="651.7" cy="610.8" r="3.5"/><circle cx="644.5" cy="616.4" r="3.5"/><circle cx="652.5" cy="615.6" r="3.5"/><circle cx="644.5" cy="620.4" r="3.5"/><circle cx="652.5" cy="621.2" r="3.5"/><circle cx="632.4" cy="622.9" r="3.5"/><circle cx="638.1" cy="626.1" r="3.5"/><circle cx="644.5" cy="625.3" r="3.5"/><circle cx="651.7" cy="626.1" r="3.5"/><circle cx="633.2" cy="634.1" r="3.5"/><circle cx="639.7" cy="631.7" r="3.5"/><circle cx="644.5" cy="630.1" r="3.5"/><circle cx="651.7" cy="631.7" r="3.5"/><circle cx="639.7" cy="636.5" r="3.5"/><circle cx="644.5" cy="635.7" r="3.5"/><circle cx="652.5" cy="637.3" r="3.5"/><circle cx="630.8" cy="643.8" r="3.5"/><circle cx="635.6" cy="642.9" r="3.5"/><circle cx="644.5" cy="640.5" r="3.5"/><circle cx="650.9" cy="642.9" r="3.5"/><circle cx="630.0" cy="651.8" r="3.5"/><circle cx="635.6" cy="650.2" r="3.5"/><circle cx="642.1" cy="648.6" r="3.5"/><circle cx="646.9" cy="647.8" r="3.5"/><circle cx="651.7" cy="649.4" r="3.5"/><circle cx="658.1" cy="650.2" r="3.5"/><circle cx="630.0" cy="659.0" r="3.5"/><circle cx="635.6" cy="658.2" r="3.5"/><circle cx="642.1" cy="656.6" r="3.5"/><circle cx="647.7" cy="655.8" r="3.5"/><circle cx="654.1" cy="657.4" r="3.5"/><circle cx="638.1" cy="662.2" r="3.5"/><circle cx="644.5" cy="661.4" r="3.5"/><circle cx="650.9" cy="662.2" r="3.5"/><circle cx="655.7" cy="661.4" r="3.5"/><circle cx="644.5" cy="666.2" r="3.5"/><circle cx="644.5" cy="671.1" r="3.5"/><circle cx="650.9" cy="670.3" r="3.5"/><circle cx="644.5" cy="683.9" r="3.5"/><circle cx="650.9" cy="682.3" r="3.5"/><circle cx="679.1" cy="488.7" r="3.5"/><circle cx="674.2" cy="494.3" r="3.5"/><circle cx="681.5" cy="492.7" r="3.5"/><circle cx="688.7" cy="490.3" r="3.5"/><circle cx="689.5" cy="495.1" r="3.5"/><circle cx="681.5" cy="499.1" r="3.5"/><circle cx="681.5" cy="504.7" r="3.5"/><circle cx="665.4" cy="513.2" r="3.5"/><circle cx="673.4" cy="510.4" r="3.5"/><circle cx="673.4" cy="514.4" r="3.5"/><circle cx="681.5" cy="508.8" r="3.5"/><circle cx="681.5" cy="513.6" r="3.5"/><circle cx="689.5" cy="510.4" r="3.5"/><circle cx="689.5" cy="514.4" r="3.5"/><circle cx="697.6" cy="513.6" r="3.5"/><circle cx="681.5" cy="518.4" r="3.5"/><circle cx="681.5" cy="523.2" r="3.5"/><circle cx="681.5" cy="528.0" r="3.5"/><circle cx="688.7" cy="527.2" r="3.5"/><circle cx="681.5" cy="532.9" r="3.5"/><circle cx="688.7" cy="531.2" r="3.5"/><circle cx="681.5" cy="536.9" r="3.5"/><circle cx="689.5" cy="536.1" r="3.5"/><circle cx="689.5" cy="539.3" r="3.5"/><circle cx="679.1" cy="543.3" r="3.5"/><circle cx="683.9" cy="542.5" r="3.5"/><circle cx="681.5" cy="547.3" r="3.5"/><circle cx="687.1" cy="545.7" r="3.5"/><circle cx="670.2" cy="554.6" r="3.5"/><circle cx="677.5" cy="554.6" r="3.5"/><circle cx="683.9" cy="552.1" r="3.5"/><circle cx="688.7" cy="553.8" r="3.5"/><circle cx="697.6" cy="552.9" r="3.5"/><circle cx="674.2" cy="559.4" r="3.5"/><circle cx="681.5" cy="558.6" r="3.5"/><circle cx="688.7" cy="558.6" r="3.5"/><circle cx="679.1" cy="563.4" r="3.5"/><circle cx="685.5" cy="563.4" r="3.5"/><circle cx="671.0" cy="568.2" r="3.5"/><circle cx="679.1" cy="569.8" r="3.5"/><circle cx="682.3" cy="572.2" r="3.5"/><circle cx="686.3" cy="569.8" r="3.5"/><circle cx="671.8" cy="584.3" r="3.5"/><circle cx="679.9" cy="584.3" r="3.5"/><circle cx="687.1" cy="585.9" r="3.5"/><circle cx="681.5" cy="589.9" r="3.5"/><circle cx="689.5" cy="590.7" r="3.5"/><circle cx="681.5" cy="594.7" r="3.5"/><circle cx="689.5" cy="595.5" r="3.5"/><circle cx="667.8" cy="601.2" r="3.5"/><circle cx="666.2" cy="605.2" r="3.5"/><circle cx="674.2" cy="603.6" r="3.5"/><circle cx="681.5" cy="599.6" r="3.5"/><circle cx="688.7" cy="600.4" r="3.5"/><circle cx="681.5" cy="604.4" r="3.5"/><circle cx="688.7" cy="605.2" r="3.5"/><circle cx="695.9" cy="604.4" r="3.5"/><circle cx="681.5" cy="610.0" r="3.5"/><circle cx="675.1" cy="616.4" r="3.5"/><circle cx="681.5" cy="616.4" r="3.5"/><circle cx="689.5" cy="617.2" r="3.5"/><circle cx="681.5" cy="621.2" r="3.5"/><circle cx="689.5" cy="622.1" r="3.5"/><circle cx="681.5" cy="626.1" r="3.5"/><circle cx="688.7" cy="625.3" r="3.5"/><circle cx="695.9" cy="629.3" r="3.5"/><circle cx="674.2" cy="630.1" r="3.5"/><circle cx="681.5" cy="630.1" r="3.5"/><circle cx="688.7" cy="629.3" r="3.5"/><circle cx="666.2" cy="634.9" r="3.5"/><circle cx="674.2" cy="634.9" r="3.5"/><circle cx="681.5" cy="634.1" r="3.5"/><circle cx="688.7" cy="634.1" r="3.5"/><circle cx="696.8" cy="636.5" r="3.5"/><circle cx="674.2" cy="639.7" r="3.5"/><circle cx="681.5" cy="639.7" r="3.5"/><circle cx="688.7" cy="639.7" r="3.5"/><circle cx="699.2" cy="640.5" r="3.5"/><circle cx="681.5" cy="643.8" r="3.5"/><circle cx="688.7" cy="644.6" r="3.5"/><circle cx="674.2" cy="648.6" r="3.5"/><circle cx="681.5" cy="648.6" r="3.5"/><circle cx="688.7" cy="648.6" r="3.5"/><circle cx="666.2" cy="654.2" r="3.5"/><circle cx="674.2" cy="654.2" r="3.5"/><circle cx="681.5" cy="653.4" r="3.5"/><circle cx="688.7" cy="653.4" r="3.5"/><circle cx="695.1" cy="652.6" r="3.5"/><circle cx="675.1" cy="662.2" r="3.5"/><circle cx="681.5" cy="661.4" r="3.5"/><circle cx="689.5" cy="663.0" r="3.5"/><circle cx="681.5" cy="667.1" r="3.5"/><circle cx="681.5" cy="675.9" r="3.5"/><circle cx="687.1" cy="677.5" r="3.5"/><circle cx="681.5" cy="680.7" r="3.5"/><circle cx="687.9" cy="684.7" r="3.5"/><circle cx="681.5" cy="687.9" r="3.5"/><circle cx="719.5" cy="461.3" r="3.5"/><circle cx="719.5" cy="472.6" r="3.5"/><circle cx="719.5" cy="483.8" r="3.5"/><circle cx="711.4" cy="491.1" r="3.5"/><circle cx="719.5" cy="488.7" r="3.5"/><circle cx="726.7" cy="491.1" r="3.5"/><circle cx="733.1" cy="489.5" r="3.5"/><circle cx="711.4" cy="496.7" r="3.5"/><circle cx="719.5" cy="494.3" r="3.5"/><circle cx="727.5" cy="497.5" r="3.5"/><circle cx="719.5" cy="499.1" r="3.5"/><circle cx="724.3" cy="501.5" r="3.5"/><circle cx="719.5" cy="503.9" r="3.5"/><circle cx="719.5" cy="507.9" r="3.5"/><circle cx="719.5" cy="514.4" r="3.5"/><circle cx="719.5" cy="520.0" r="3.5"/><circle cx="727.5" cy="519.2" r="3.5"/><circle cx="719.5" cy="524.8" r="3.5"/><circle cx="727.5" cy="524.0" r="3.5"/><circle cx="709.8" cy="549.7" r="3.5"/><circle cx="717.9" cy="547.3" r="3.5"/><circle cx="726.7" cy="544.9" r="3.5"/><circle cx="719.5" cy="551.3" r="3.5"/><circle cx="725.1" cy="550.5" r="3.5"/><circle cx="719.5" cy="557.0" r="3.5"/><circle cx="719.5" cy="562.6" r="3.5"/><circle cx="725.9" cy="562.6" r="3.5"/><circle cx="719.5" cy="566.6" r="3.5"/><circle cx="726.7" cy="568.2" r="3.5"/><circle cx="705.8" cy="574.6" r="3.5"/><circle cx="712.2" cy="576.2" r="3.5"/><circle cx="719.5" cy="573.0" r="3.5"/><circle cx="726.7" cy="577.1" r="3.5"/><circle cx="730.7" cy="574.6" r="3.5"/><circle cx="737.2" cy="573.8" r="3.5"/><circle cx="713.9" cy="584.3" r="3.5"/><circle cx="719.5" cy="581.1" r="3.5"/><circle cx="726.7" cy="585.1" r="3.5"/><circle cx="719.5" cy="589.1" r="3.5"/><circle cx="726.7" cy="589.9" r="3.5"/><circle cx="719.5" cy="597.1" r="3.5"/><circle cx="712.2" cy="601.2" r="3.5"/><circle cx="719.5" cy="603.6" r="3.5"/><circle cx="727.5" cy="602.8" r="3.5"/><circle cx="719.5" cy="607.6" r="3.5"/><circle cx="710.6" cy="612.4" r="3.5"/><circle cx="717.9" cy="613.2" r="3.5"/><circle cx="725.1" cy="613.2" r="3.5"/><circle cx="731.5" cy="612.4" r="3.5"/><circle cx="719.5" cy="618.0" r="3.5"/><circle cx="711.4" cy="622.1" r="3.5"/><circle cx="719.5" cy="622.1" r="3.5"/><circle cx="726.7" cy="622.9" r="3.5"/><circle cx="732.3" cy="620.4" r="3.5"/><circle cx="719.5" cy="626.9" r="3.5"/><circle cx="711.4" cy="630.9" r="3.5"/><circle cx="718.7" cy="629.3" r="3.5"/><circle cx="725.1" cy="630.9" r="3.5"/><circle cx="733.1" cy="630.1" r="3.5"/><circle cx="703.4" cy="636.5" r="3.5"/><circle cx="709.8" cy="635.7" r="3.5"/><circle cx="716.3" cy="635.7" r="3.5"/><circle cx="722.7" cy="634.9" r="3.5"/><circle cx="729.1" cy="635.7" r="3.5"/><circle cx="735.6" cy="636.5" r="3.5"/><circle cx="704.2" cy="642.1" r="3.5"/><circle cx="710.6" cy="640.5" r="3.5"/><circle cx="717.1" cy="640.5" r="3.5"/><circle cx="723.5" cy="639.7" r="3.5"/><circle cx="729.9" cy="641.3" r="3.5"/><circle cx="739.6" cy="641.3" r="3.5"/><circle cx="746.0" cy="640.5" r="3.5"/><circle cx="709.0" cy="645.4" r="3.5"/><circle cx="715.5" cy="645.4" r="3.5"/><circle cx="721.9" cy="645.4" r="3.5"/><circle cx="728.3" cy="647.0" r="3.5"/><circle cx="733.9" cy="647.0" r="3.5"/><circle cx="713.9" cy="650.2" r="3.5"/><circle cx="719.5" cy="650.2" r="3.5"/><circle cx="725.1" cy="649.4" r="3.5"/><circle cx="715.5" cy="655.8" r="3.5"/><circle cx="721.9" cy="656.6" r="3.5"/><circle cx="714.7" cy="662.2" r="3.5"/><circle cx="719.5" cy="663.0" r="3.5"/><circle cx="729.9" cy="661.4" r="3.5"/><circle cx="719.5" cy="668.7" r="3.5"/><circle cx="725.9" cy="669.5" r="3.5"/><circle cx="719.5" cy="675.9" r="3.5"/><circle cx="499.1" cy="650.6" r="3.5"/><circle cx="193.3" cy="616.4" r="3.5"/><circle cx="648.1" cy="633.7" r="3.5"/><circle cx="543.7" cy="628.9" r="3.5"/><circle cx="648.5" cy="618.8" r="3.5"/><circle cx="418.1" cy="633.3" r="3.5"/><circle cx="204.9" cy="632.1" r="3.5"/><circle cx="571.3" cy="592.3" r="3.5"/><circle cx="232.1" cy="554.2" r="3.5"/><circle cx="237.7" cy="635.7" r="3.5"/><circle cx="685.5" cy="548.9" r="3.5"/><circle cx="123.7" cy="525.6" r="3.5"/><circle cx="352.7" cy="600.0" r="3.5"/><circle cx="556.2" cy="634.1" r="3.5"/><circle cx="349.3" cy="612.4" r="3.5"/><circle cx="685.1" cy="646.2" r="3.5"/><circle cx="492.3" cy="660.2" r="3.5"/><circle cx="647.7" cy="641.7" r="3.5"/><circle cx="208.9" cy="626.5" r="3.5"/><circle cx="649.3" cy="659.0" r="3.5"/><circle cx="190.1" cy="620.0" r="3.5"/><circle cx="95.8" cy="602.4" r="3.5"/><circle cx="685.1" cy="625.7" r="3.5"/><circle cx="355.9" cy="612.8" r="3.5"/><circle cx="573.3" cy="636.1" r="3.5"/><circle cx="563.9" cy="606.0" r="3.5"/><circle cx="355.9" cy="607.2" r="3.5"/><circle cx="677.9" cy="632.5" r="3.5"/><circle cx="237.7" cy="638.9" r="3.5"/><circle cx="267.3" cy="574.6" r="3.5"/><circle cx="491.9" cy="653.8" r="3.5"/><circle cx="267.3" cy="580.3" r="3.5"/><circle cx="719.9" cy="637.7" r="3.5"/><circle cx="416.9" cy="604.4" r="3.5"/><circle cx="198.1" cy="647.0" r="3.5"/><circle cx="424.5" cy="604.8" r="3.5"/><circle cx="424.5" cy="609.6" r="3.5"/><circle cx="528.9" cy="628.5" r="3.5"/><circle cx="195.7" cy="638.1" r="3.5"/><circle cx="300.4" cy="607.6" r="3.5"/><circle cx="566.5" cy="608.4" r="3.5"/><circle cx="579.9" cy="627.7" r="3.5"/><circle cx="237.7" cy="642.1" r="3.5"/><circle cx="461.7" cy="667.5" r="3.5"/><circle cx="567.3" cy="633.3" r="3.5"/><circle cx="610.5" cy="607.6" r="3.5"/><circle cx="161.1" cy="614.8" r="3.5"/><circle cx="379.9" cy="612.8" r="3.5"/><circle cx="275.5" cy="569.8" r="3.5"/><circle cx="499.1" cy="645.4" r="3.5"/><circle cx="609.1" cy="600.0" r="3.5"/><circle cx="610.9" cy="614.4" r="3.5"/><circle cx="304.5" cy="622.1" r="3.5"/><circle cx="311.3" cy="591.1" r="3.5"/><circle cx="536.1" cy="632.9" r="3.5"/><circle cx="88.5" cy="598.8" r="3.5"/><circle cx="200.1" cy="617.2" r="3.5"/><circle cx="543.7" cy="633.3" r="3.5"/><circle cx="304.5" cy="598.3" r="3.5"/><circle cx="80.9" cy="625.3" r="3.5"/><circle cx="125.9" cy="614.0" r="3.5"/><circle cx="461.7" cy="661.8" r="3.5"/><circle cx="579.9" cy="633.7" r="3.5"/><circle cx="506.7" cy="621.7" r="3.5"/><circle cx="499.1" cy="607.2" r="3.5"/><circle cx="163.5" cy="638.1" r="3.5"/><circle cx="282.7" cy="580.7" r="3.5"/><circle cx="379.1" cy="621.2" r="3.5"/><circle cx="726.7" cy="640.5" r="3.5"/><circle cx="599.0" cy="627.7" r="3.5"/><circle cx="528.9" cy="635.3" r="3.5"/><circle cx="685.1" cy="634.1" r="3.5"/><circle cx="357.1" cy="620.4" r="3.5"/><circle cx="692.7" cy="635.3" r="3.5"/><circle cx="573.3" cy="639.3" r="3.5"/><circle cx="341.3" cy="606.4" r="3.5"/><circle cx="579.9" cy="639.3" r="3.5"/><circle cx="352.7" cy="612.8" r="3.5"/><circle cx="274.9" cy="577.5" r="3.5"/><circle cx="364.1" cy="611.2" r="3.5"/><circle cx="603.3" cy="612.8" r="3.5"/><circle cx="499.1" cy="626.9" r="3.5"/><circle cx="725.1" cy="646.2" r="3.5"/><circle cx="503.1" cy="631.3" r="3.5"/><circle cx="603.7" cy="641.3" r="3.5"/><circle cx="384.7" cy="615.2" r="3.5"/><circle cx="713.9" cy="633.3" r="3.5"/><circle cx="158.3" cy="622.9" r="3.5"/><circle cx="713.1" cy="642.9" r="3.5"/><circle cx="720.7" cy="653.4" r="3.5"/><circle cx="720.7" cy="632.1" r="3.5"/><circle cx="318.1" cy="605.6" r="3.5"/><circle cx="424.5" cy="658.2" r="3.5"/><circle cx="424.5" cy="614.8" r="3.5"/><circle cx="200.9" cy="643.8" r="3.5"/><circle cx="521.6" cy="628.5" r="3.5"/><circle cx="644.9" cy="652.2" r="3.5"/><circle cx="318.9" cy="600.4" r="3.5"/><circle cx="119.5" cy="585.1" r="3.5"/><circle cx="573.3" cy="627.3" r="3.5"/><circle cx="385.5" cy="587.9" r="3.5"/><circle cx="499.1" cy="634.9" r="3.5"/><circle cx="391.5" cy="589.9" r="3.5"/><circle cx="506.7" cy="635.7" r="3.5"/><circle cx="641.3" cy="623.3" r="3.5"/><circle cx="192.5" cy="638.9" r="3.5"/><circle cx="200.1" cy="606.8" r="3.5"/><circle cx="204.1" cy="628.5" r="3.5"/><circle cx="648.1" cy="628.5" r="3.5"/><circle cx="457.9" cy="575.4" r="3.5"/><circle cx="417.3" cy="661.8" r="3.5"/><circle cx="236.5" cy="578.7" r="3.5"/><circle cx="677.9" cy="639.7" r="3.5"/><circle cx="605.5" cy="599.6" r="3.5"/><circle cx="155.5" cy="602.8" r="3.5"/><circle cx="379.1" cy="628.5" r="3.5"/><circle cx="610.1" cy="620.4" r="3.5"/><circle cx="269.3" cy="634.1" r="3.5"/><circle cx="414.1" cy="621.7" r="3.5"/><circle cx="196.5" cy="641.3" r="3.5"/><circle cx="685.5" cy="595.1" r="3.5"/><circle cx="536.1" cy="628.5" r="3.5"/><circle cx="357.1" cy="617.2" r="3.5"/><circle cx="567.3" cy="639.3" r="3.5"/><circle cx="585.2" cy="627.3" r="3.5"/><circle cx="274.5" cy="589.1" r="3.5"/><circle cx="410.0" cy="626.1" r="3.5"/><circle cx="80.9" cy="594.3" r="3.5"/><circle cx="311.7" cy="622.5" r="3.5"/><circle cx="417.3" cy="623.7" r="3.5"/><circle cx="417.3" cy="614.8" r="3.5"/><circle cx="317.7" cy="591.9" r="3.5"/><circle cx="635.6" cy="630.1" r="3.5"/><circle cx="640.1" cy="641.7" r="3.5"/><circle cx="205.7" cy="625.7" r="3.5"/><circle cx="685.1" cy="556.2" r="3.5"/><circle cx="461.3" cy="634.9" r="3.5"/><circle cx="349.3" cy="592.3" r="3.5"/><circle cx="685.1" cy="641.7" r="3.5"/><circle cx="567.3" cy="645.4" r="3.5"/><circle cx="499.1" cy="602.4" r="3.5"/><circle cx="717.5" cy="632.5" r="3.5"/><circle cx="707.0" cy="638.5" r="3.5"/><circle cx="200.1" cy="508.8" r="3.5"/><circle cx="259.4" cy="580.7" r="3.5"/><circle cx="645.3" cy="591.5" r="3.5"/><circle cx="193.3" cy="597.9" r="3.5"/><circle cx="713.5" cy="638.1" r="3.5"/><circle cx="312.5" cy="579.1" r="3.5"/><circle cx="96.2" cy="589.1" r="3.5"/><circle cx="461.3" cy="647.4" r="3.5"/><circle cx="125.9" cy="608.8" r="3.5"/><circle cx="365.3" cy="620.0" r="3.5"/><circle cx="267.3" cy="586.3" r="3.5"/><circle cx="719.5" cy="642.9" r="3.5"/><circle cx="163.5" cy="634.9" r="3.5"/><circle cx="88.1" cy="593.1" r="3.5"/><circle cx="514.4" cy="622.1" r="3.5"/><circle cx="567.1" cy="622.1" r="3.5"/><circle cx="567.3" cy="605.2" r="3.5"/><circle cx="118.3" cy="613.2" r="3.5"/><circle cx="125.9" cy="602.8" r="3.5"/><circle cx="461.7" cy="640.5" r="3.5"/><circle cx="125.9" cy="618.8" r="3.5"/><circle cx="599.4" cy="619.6" r="3.5"/><circle cx="387.5" cy="582.7" r="3.5"/><circle cx="722.3" cy="615.6" r="3.5"/><circle cx="282.3" cy="586.3" r="3.5"/><circle cx="274.5" cy="601.6" r="3.5"/><circle cx="499.1" cy="621.2" r="3.5"/><circle cx="536.1" cy="638.1" r="3.5"/><circle cx="311.3" cy="610.8" r="3.5"/><circle cx="593.8" cy="622.9" r="3.5"/><circle cx="636.4" cy="635.3" r="3.5"/><circle cx="312.5" cy="632.9" r="3.5"/><circle cx="90.5" cy="588.7" r="3.5"/><circle cx="311.3" cy="604.0" r="3.5"/><circle cx="349.3" cy="637.7" r="3.5"/><circle cx="272.7" cy="561.4" r="3.5"/><circle cx="604.1" cy="636.5" r="3.5"/><circle cx="152.2" cy="636.9" r="3.5"/><circle cx="416.9" cy="610.0" r="3.5"/><circle cx="88.1" cy="608.0" r="3.5"/><circle cx="95.3" cy="607.2" r="3.5"/><circle cx="641.3" cy="628.1" r="3.5"/><circle cx="685.5" cy="538.1" r="3.5"/><circle cx="455.3" cy="582.7" r="3.5"/><circle cx="349.3" cy="632.1" r="3.5"/><circle cx="236.5" cy="589.9" r="3.5"/><circle cx="583.1" cy="639.7" r="3.5"/><circle cx="269.3" cy="553.3" r="3.5"/><circle cx="491.9" cy="604.8" r="3.5"/><circle cx="275.3" cy="616.0" r="3.5"/><circle cx="161.5" cy="621.7" r="3.5"/><circle cx="416.9" cy="656.6" r="3.5"/><circle cx="454.1" cy="627.7" r="3.5"/><circle cx="555.4" cy="639.3" r="3.5"/><circle cx="162.3" cy="593.5" r="3.5"/><circle cx="492.3" cy="645.4" r="3.5"/><circle cx="196.5" cy="504.3" r="3.5"/><circle cx="643.3" cy="644.6" r="3.5"/><circle cx="303.7" cy="606.8" r="3.5"/><circle cx="573.1" cy="621.7" r="3.5"/><circle cx="573.3" cy="632.9" r="3.5"/><circle cx="715.5" cy="628.9" r="3.5"/><circle cx="610.9" cy="576.7" r="3.5"/><circle cx="384.3" cy="593.9" r="3.5"/><circle cx="597.4" cy="630.9" r="3.5"/><circle cx="388.3" cy="599.6" r="3.5"/><circle cx="417.3" cy="620.0" r="3.5"/><circle cx="638.9" cy="649.4" r="3.5"/><circle cx="311.3" cy="597.5" r="3.5"/><circle cx="86.5" cy="624.1" r="3.5"/><circle cx="201.3" cy="630.5" r="3.5"/><circle cx="454.5" cy="589.5" r="3.5"/><circle cx="678.3" cy="559.0" r="3.5"/><circle cx="573.3" cy="645.8" r="3.5"/><circle cx="372.6" cy="616.8" r="3.5"/><circle cx="587.2" cy="635.3" r="3.5"/><circle cx="198.5" cy="520.4" r="3.5"/><circle cx="200.1" cy="611.2" r="3.5"/><circle cx="454.1" cy="632.5" r="3.5"/><circle cx="493.9" cy="610.0" r="3.5"/><circle cx="267.7" cy="591.9" r="3.5"/><circle cx="280.7" cy="606.4" r="3.5"/><circle cx="165.1" cy="628.9" r="3.5"/><circle cx="88.5" cy="602.0" r="3.5"/><circle cx="410.0" cy="629.3" r="3.5"/><circle cx="231.3" cy="579.1" r="3.5"/><circle cx="700.1" cy="636.5" r="3.5"/><circle cx="723.1" cy="624.9" r="3.5"/><circle cx="284.7" cy="598.8" r="3.5"/><circle cx="88.5" cy="613.2" r="3.5"/><circle cx="514.4" cy="635.7" r="3.5"/><circle cx="461.7" cy="602.4" r="3.5"/><circle cx="454.1" cy="659.8" r="3.5"/><circle cx="236.5" cy="584.3" r="3.5"/><circle cx="461.7" cy="627.7" r="3.5"/><circle cx="125.9" cy="626.5" r="3.5"/><circle cx="610.9" cy="497.1" r="3.5"/><circle cx="349.7" cy="642.9" r="3.5"/><circle cx="506.7" cy="618.4" r="3.5"/><circle cx="162.7" cy="604.8" r="3.5"/><circle cx="424.5" cy="620.0" r="3.5"/><circle cx="542.9" cy="638.9" r="3.5"/><circle cx="242.7" cy="592.3" r="3.5"/><circle cx="342.9" cy="591.9" r="3.5"/><circle cx="112.6" cy="618.0" r="3.5"/><circle cx="722.3" cy="628.9" r="3.5"/><circle cx="387.1" cy="624.9" r="3.5"/><circle cx="259.8" cy="586.3" r="3.5"/><circle cx="271.2" cy="604.8" r="3.5"/><circle cx="312.5" cy="583.9" r="3.5"/><circle cx="685.1" cy="630.1" r="3.5"/><circle cx="499.1" cy="656.2" r="3.5"/><circle cx="161.9" cy="628.5" r="3.5"/><circle cx="274.5" cy="598.3" r="3.5"/><circle cx="532.9" cy="569.4" r="3.5"/><circle cx="610.9" cy="636.1" r="3.5"/><circle cx="711.4" cy="647.8" r="3.5"/><circle cx="529.7" cy="620.0" r="3.5"/><circle cx="635.6" cy="646.6" r="3.5"/><circle cx="634.4" cy="638.5" r="3.5"/><circle cx="680.3" cy="540.1" r="3.5"/><circle cx="372.6" cy="613.6" r="3.5"/><circle cx="385.1" cy="600.0" r="3.5"/><circle cx="274.5" cy="585.9" r="3.5"/><circle cx="80.9" cy="591.1" r="3.5"/><circle cx="206.9" cy="620.0" r="3.5"/><circle cx="311.7" cy="626.5" r="3.5"/><circle cx="239.1" cy="600.4" r="3.5"/><circle cx="236.9" cy="622.1" r="3.5"/><circle cx="241.9" cy="585.1" r="3.5"/><circle cx="252.5" cy="579.9" r="3.5"/><circle cx="609.7" cy="626.5" r="3.5"/><circle cx="610.9" cy="640.5" r="3.5"/><circle cx="80.9" cy="628.5" r="3.5"/><circle cx="420.5" cy="625.7" r="3.5"/><circle cx="638.9" cy="657.4" r="3.5"/><circle cx="193.3" cy="601.6" r="3.5"/><circle cx="237.3" cy="594.7" r="3.5"/><circle cx="722.3" cy="610.4" r="3.5"/><circle cx="725.9" cy="618.0" r="3.5"/><circle cx="491.9" cy="664.2" r="3.5"/><circle cx="499.1" cy="663.8" r="3.5"/><circle cx="274.5" cy="605.2" r="3.5"/><circle cx="193.3" cy="621.7" r="3.5"/><circle cx="550.6" cy="628.1" r="3.5"/><circle cx="190.9" cy="630.5" r="3.5"/><circle cx="461.7" cy="597.5" r="3.5"/><circle cx="118.3" cy="618.0" r="3.5"/><circle cx="157.5" cy="634.9" r="3.5"/><circle cx="384.7" cy="628.1" r="3.5"/><circle cx="153.9" cy="608.4" r="3.5"/><circle cx="200.1" cy="524.8" r="3.5"/><circle cx="302.5" cy="627.7" r="3.5"/><circle cx="556.2" cy="628.1" r="3.5"/><circle cx="352.3" cy="630.9" r="3.5"/><circle cx="561.8" cy="628.5" r="3.5"/><circle cx="277.5" cy="563.8" r="3.5"/><circle cx="607.9" cy="603.2" r="3.5"/><circle cx="491.9" cy="618.4" r="3.5"/><circle cx="266.5" cy="620.4" r="3.5"/><circle cx="600.7" cy="638.9" r="3.5"/><circle cx="499.1" cy="618.0" r="3.5"/><circle cx="503.5" cy="610.8" r="3.5"/><circle cx="304.5" cy="595.1" r="3.5"/><circle cx="80.9" cy="598.3" r="3.5"/><circle cx="77.7" cy="625.7" r="3.5"/><circle cx="680.7" cy="553.3" r="3.5"/><circle cx="685.5" cy="621.7" r="3.5"/><circle cx="347.7" cy="596.7" r="3.5"/><circle cx="259.4" cy="575.0" r="3.5"/><circle cx="193.3" cy="612.0" r="3.5"/><circle cx="200.1" cy="621.7" r="3.5"/><circle cx="522.4" cy="624.1" r="3.5"/><circle cx="196.5" cy="600.8" r="3.5"/><circle cx="572.7" cy="585.5" r="3.5"/><circle cx="573.3" cy="602.0" r="3.5"/><circle cx="338.7" cy="599.6" r="3.5"/><circle cx="573.3" cy="642.5" r="3.5"/><circle cx="365.3" cy="616.8" r="3.5"/><circle cx="268.9" cy="569.0" r="3.5"/><circle cx="502.7" cy="639.7" r="3.5"/><circle cx="487.0" cy="616.4" r="3.5"/><circle cx="84.5" cy="617.2" r="3.5"/><circle cx="685.5" cy="534.5" r="3.5"/><circle cx="235.7" cy="606.4" r="3.5"/><circle cx="349.3" cy="608.8" r="3.5"/><circle cx="455.3" cy="637.7" r="3.5"/><circle cx="349.3" cy="617.2" r="3.5"/><circle cx="388.3" cy="630.1" r="3.5"/><circle cx="521.6" cy="635.7" r="3.5"/><circle cx="194.9" cy="664.6" r="3.5"/><circle cx="647.7" cy="664.2" r="3.5"/><circle cx="342.5" cy="611.6" r="3.5"/><circle cx="119.9" cy="624.5" r="3.5"/><circle cx="500.3" cy="610.4" r="3.5"/><circle cx="162.7" cy="599.2" r="3.5"/><circle cx="281.5" cy="591.9" r="3.5"/><circle cx="386.3" cy="607.2" r="3.5"/><circle cx="488.7" cy="661.4" r="3.5"/><circle cx="536.1" cy="641.3" r="3.5"/><circle cx="417.3" cy="627.3" r="3.5"/><circle cx="638.9" cy="645.8" r="3.5"/><circle cx="451.9" cy="585.1" r="3.5"/><circle cx="638.9" cy="653.4" r="3.5"/><circle cx="610.1" cy="632.1" r="3.5"/><circle cx="649.7" cy="597.5" r="3.5"/><circle cx="576.3" cy="593.9" r="3.5"/><circle cx="561.8" cy="633.7" r="3.5"/><circle cx="723.1" cy="620.4" r="3.5"/><circle cx="725.9" cy="626.9" r="3.5"/><circle cx="529.7" cy="624.1" r="3.5"/><circle cx="416.9" cy="651.0" r="3.5"/><circle cx="688.3" cy="542.5" r="3.5"/><circle cx="246.7" cy="579.9" r="3.5"/><circle cx="561.8" cy="639.7" r="3.5"/><circle cx="595.4" cy="627.7" r="3.5"/><circle cx="514.4" cy="625.3" r="3.5"/><circle cx="648.5" cy="623.3" r="3.5"/><circle cx="685.1" cy="651.0" r="3.5"/><circle cx="461.7" cy="656.2" r="3.5"/><circle cx="506.7" cy="624.9" r="3.5"/><circle cx="499.5" cy="630.5" r="3.5"/><circle cx="604.1" cy="632.5" r="3.5"/><circle cx="300.4" cy="603.6" r="3.5"/><circle cx="417.7" cy="644.6" r="3.5"/><circle cx="542.5" cy="624.1" r="3.5"/><circle cx="635.6" cy="654.2" r="3.5"/><circle cx="382.3" cy="588.3" r="3.5"/><circle cx="197.3" cy="627.7" r="3.5"/><circle cx="549.4" cy="636.1" r="3.5"/><circle cx="164.7" cy="620.8" r="3.5"/><circle cx="590.5" cy="630.5" r="3.5"/><circle cx="613.9" cy="634.1" r="3.5"/><circle cx="298.8" cy="600.4" r="3.5"/><circle cx="461.7" cy="607.2" r="3.5"/><circle cx="383.5" cy="647.8" r="3.5"/><circle cx="200.9" cy="637.3" r="3.5"/><circle cx="693.9" cy="640.1" r="3.5"/><circle cx="610.1" cy="508.8" r="3.5"/></g>
<g stroke="#838383" stroke-width="2" fill="none">
<path d="M62.6 23.5 V351.6 H392"/>
<path d="M403 351.8 H731.8"/>
<path d="M62 427 V700.2 H747"/>
</g>
<g fill="#4aa4e0"><circle cx="311.8" cy="150.5" r="3.6"/><circle cx="323.3" cy="160.4" r="3.6"/><circle cx="335.5" cy="148.4" r="3.6"/><circle cx="349.4" cy="151.0" r="3.6"/><circle cx="197.4" cy="233.4" r="3.6"/><circle cx="206.4" cy="235.1" r="3.6"/><circle cx="165.8" cy="248.4" r="3.6"/><circle cx="157.0" cy="257.4" r="3.6"/><circle cx="191.4" cy="278.1" r="3.6"/><circle cx="229.2" cy="278.1" r="3.6"/><circle cx="241.4" cy="196.2" r="3.6"/><circle cx="242.2" cy="202.2" r="3.6"/><circle cx="264.6" cy="239.3" r="3.6"/><circle cx="263.6" cy="244.0" r="3.6"/><circle cx="268.3" cy="244.0" r="3.6"/><circle cx="282.3" cy="247.3" r="3.6"/><circle cx="257.1" cy="252.4" r="3.6"/><circle cx="259.4" cy="256.6" r="3.6"/><circle cx="270.2" cy="253.4" r="3.6"/><circle cx="266.4" cy="259.0" r="3.6"/><circle cx="272.5" cy="260.4" r="3.6"/><circle cx="277.7" cy="260.4" r="3.6"/><circle cx="245.4" cy="258.5" r="3.6"/><circle cx="246.8" cy="266.9" r="3.6"/><circle cx="255.7" cy="267.4" r="3.6"/><circle cx="260.4" cy="270.2" r="3.6"/><circle cx="292.1" cy="270.2" r="3.6"/><circle cx="239.3" cy="245.4" r="3.6"/><circle cx="305.8" cy="244.9" r="3.6"/><circle cx="318.5" cy="243.6" r="3.6"/><circle cx="497.0" cy="240.8" r="3.6"/><circle cx="505.8" cy="237.2" r="3.6"/><circle cx="531.4" cy="212.7" r="3.6"/><circle cx="537.7" cy="194.0" r="3.6"/><circle cx="546.1" cy="187.8" r="3.6"/><circle cx="569.2" cy="207.4" r="3.6"/><circle cx="609.6" cy="140.8" r="3.6"/><circle cx="617.8" cy="140.8" r="3.6"/><circle cx="623.0" cy="141.3" r="3.6"/><circle cx="632.0" cy="145.3" r="3.6"/><circle cx="613.2" cy="144.8" r="3.6"/><circle cx="600.3" cy="147.3" r="3.6"/><circle cx="603.8" cy="147.5" r="3.6"/><circle cx="608.3" cy="149.5" r="3.6"/><circle cx="596.5" cy="153.3" r="3.6"/><circle cx="600.6" cy="152.5" r="3.6"/><circle cx="606.4" cy="158.6" r="3.6"/><circle cx="596.0" cy="162.5" r="3.6"/><circle cx="585.4" cy="162.2" r="3.6"/><circle cx="588.2" cy="164.9" r="3.6"/><circle cx="592.8" cy="176.8" r="3.6"/><circle cx="581.2" cy="179.0" r="3.6"/><circle cx="582.7" cy="182.8" r="3.6"/><circle cx="646.0" cy="110.3" r="3.6"/><circle cx="658.3" cy="106.2" r="3.6"/><circle cx="675.4" cy="105.8" r="3.6"/><circle cx="689.3" cy="104.6" r="3.6"/><circle cx="651.9" cy="128.7" r="3.6"/><circle cx="662.9" cy="130.9" r="3.6"/></g>
<g stroke="#000" stroke-width="2" stroke-linecap="round"><path d="M63.5 351 L392.5 23.4"/><path d="M403.5 351.3 L731.8 23.2"/></g>
<g fill="#7400bc"><circle cx="194.1" cy="257.8" r="6.7"/><circle cx="210.1" cy="260.1" r="6.7"/><circle cx="171.1" cy="300.8" r="6.7"/><circle cx="207.4" cy="309.7" r="6.7"/><circle cx="227.5" cy="243.6" r="6.7"/><circle cx="235.3" cy="238.4" r="6.7"/><circle cx="251.3" cy="244.2" r="6.7"/><circle cx="288.9" cy="243.1" r="6.7"/><circle cx="511.1" cy="224.8" r="6.7"/><circle cx="547.4" cy="225.4" r="6.7"/><circle cx="534.1" cy="165.3" r="6.7"/><circle cx="550.4" cy="168.0" r="6.7"/><circle cx="576.0" cy="167.0" r="6.7"/><circle cx="568.0" cy="142.4" r="6.7"/><circle cx="591.3" cy="147.8" r="6.7"/><circle cx="628.7" cy="159.9" r="6.7"/></g>
<g fill="#7d7d7d" stroke="#fff" stroke-width="0.3" opacity="0.999" font-family="Liberation Sans, sans-serif">
<text x="177" y="13.5" font-size="17" letter-spacing="0.23">Liigand et al.</text>
<text x="497" y="13.3" font-size="17" letter-spacing="0.65">Re-trained model</text>
<g font-size="17" text-anchor="middle">
<text x="49" y="46.5">4</text>
<text x="49" y="146.6">3</text>
<text x="49" y="245.4">2</text>
<text x="49" y="344.6">1</text>
<text x="78.2" y="375.5">1</text>
<text x="177.1" y="375.5">2</text>
<text x="277" y="375.5">3</text>
<text x="376.4" y="375.5">4</text>
<text x="417.7" y="375.5">1</text>
<text x="517.4" y="375.5">2</text>
<text x="616.7" y="375.5">3</text>
<text x="716.9" y="375.5">4</text>
</g>
<g font-size="16" text-anchor="end">
<text x="53" y="490.0">0.3</text>
<text x="53" y="562.0">0.0</text>
<text x="53" y="634.6">-0.3</text>
<text x="53" y="706.1">-0.6</text>
</g>
<text x="637" y="398.4" font-size="16.5">log<tspan font-style="italic">IE</tspan><tspan font-size="12" dx="1.5" dy="4" letter-spacing="0.25">measured</tspan></text>
<text transform="translate(17,218.7) rotate(-90)" font-size="16.5">log<tspan font-style="italic">IE</tspan><tspan font-size="12" dx="1.5" dy="4" letter-spacing="0.3">pred</tspan></text>
<text transform="translate(13.7,600.4) rotate(-90)" font-size="17.8">similarity</text>
<g font-size="17" text-anchor="middle">
<text transform="translate(98.3,774) rotate(-90)">2-OH-CB77</text>
<text transform="translate(135.6,774) rotate(-90)">4'-OH-CB120</text>
<text transform="translate(172.9,774) rotate(-90)">4'-OH-CB127</text>
<text transform="translate(210.3,774) rotate(-90)">4'-OH-CB159</text>
<text transform="translate(247.6,774) rotate(-90)">4'-OH-CB30</text>
<text transform="translate(284.9,774) rotate(-90)">4'-OH-CB35</text>
<text transform="translate(322.2,774) rotate(-90)">4'-OH-CB79</text>
<text transform="translate(359.5,774) rotate(-90)">4-OH-CB107</text>
<text transform="translate(396.9,774) rotate(-90)">4-OH-CB108</text>
<text transform="translate(434.2,774) rotate(-90)">4-OH-CB130</text>
<text transform="translate(471.5,774) rotate(-90)">4-OH-CB172</text>
<text transform="translate(508.8,774) rotate(-90)">4-OH-CB193</text>
<text transform="translate(546.1,774) rotate(-90)">4,2'-diOH-CB107</text>
<text transform="translate(583.5,774) rotate(-90)">4,3'-diOH-CB107</text>
<text transform="translate(620.8,774) rotate(-90)">4,3'-diOH-CB90</text>
<text transform="translate(658.1,774) rotate(-90)">4,4'-diOH-CB111</text>
<text transform="translate(695.4,774) rotate(-90)">4,4'-diOH-CB80</text>
<text transform="translate(732.7,774) rotate(-90)">4,4'-diOH-CB83</text>
</g>
</g>
</svg>
</body></html>
